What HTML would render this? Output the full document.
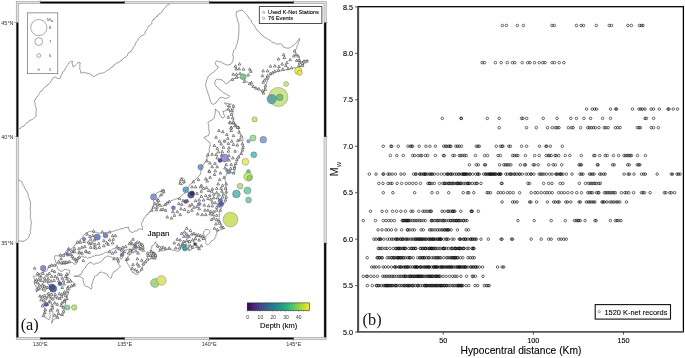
<!DOCTYPE html><html><head><meta charset="utf-8"><title>Figure</title><style>html,body{margin:0;padding:0;background:#fff;width:685px;height:358px;overflow:hidden}svg{display:block;will-change:transform}</style></head><body><svg width="685" height="358" viewBox="0 0 685 358"><g fill="none" stroke="#000" stroke-width="0.58">
<circle cx="502.4" cy="25.48" r="1.28"/>
<circle cx="506.4" cy="25.48" r="1.28"/>
<circle cx="517.3" cy="25.48" r="1.28"/>
<circle cx="523.4" cy="25.48" r="1.28"/>
<circle cx="551.9" cy="25.48" r="1.28"/>
<circle cx="554.3" cy="25.48" r="1.28"/>
<circle cx="576.4" cy="25.48" r="1.28"/>
<circle cx="581.1" cy="25.48" r="1.28"/>
<circle cx="583.5" cy="25.48" r="1.28"/>
<circle cx="596.3" cy="25.48" r="1.28"/>
<circle cx="609.2" cy="25.48" r="1.28"/>
<circle cx="611.5" cy="25.48" r="1.28"/>
<circle cx="627.9" cy="25.48" r="1.28"/>
<circle cx="631.4" cy="25.48" r="1.28"/>
<circle cx="639.5" cy="25.48" r="1.28"/>
<circle cx="641.4" cy="25.48" r="1.28"/>
<circle cx="643" cy="25.48" r="1.28"/>
<circle cx="482.1" cy="62.64" r="1.28"/>
<circle cx="484.4" cy="62.64" r="1.28"/>
<circle cx="495.4" cy="62.64" r="1.28"/>
<circle cx="501.2" cy="62.64" r="1.28"/>
<circle cx="507.3" cy="62.64" r="1.28"/>
<circle cx="512.4" cy="62.64" r="1.28"/>
<circle cx="514.8" cy="62.64" r="1.28"/>
<circle cx="522.2" cy="62.64" r="1.28"/>
<circle cx="527.6" cy="62.64" r="1.28"/>
<circle cx="530" cy="62.64" r="1.28"/>
<circle cx="534.6" cy="62.64" r="1.28"/>
<circle cx="539.3" cy="62.64" r="1.28"/>
<circle cx="542.8" cy="62.64" r="1.28"/>
<circle cx="545.1" cy="62.64" r="1.28"/>
<circle cx="552.1" cy="62.64" r="1.28"/>
<circle cx="554.5" cy="62.64" r="1.28"/>
<circle cx="559.2" cy="62.64" r="1.28"/>
<circle cx="563.8" cy="62.64" r="1.28"/>
<circle cx="586.6" cy="109.09" r="1.28"/>
<circle cx="592.3" cy="109.09" r="1.28"/>
<circle cx="594.7" cy="109.09" r="1.28"/>
<circle cx="596.6" cy="109.09" r="1.28"/>
<circle cx="610.5" cy="109.09" r="1.28"/>
<circle cx="615.8" cy="109.09" r="1.28"/>
<circle cx="616.5" cy="109.09" r="1.28"/>
<circle cx="632.5" cy="109.09" r="1.28"/>
<circle cx="639" cy="109.09" r="1.28"/>
<circle cx="640.9" cy="109.09" r="1.28"/>
<circle cx="642.6" cy="109.09" r="1.28"/>
<circle cx="645" cy="109.09" r="1.28"/>
<circle cx="651.2" cy="109.09" r="1.28"/>
<circle cx="653.6" cy="109.09" r="1.28"/>
<circle cx="659.3" cy="109.09" r="1.28"/>
<circle cx="668" cy="109.09" r="1.28"/>
<circle cx="668.9" cy="109.09" r="1.28"/>
<circle cx="673.2" cy="109.09" r="1.28"/>
<circle cx="677.5" cy="109.09" r="1.28"/>
<circle cx="442.3" cy="118.38" r="1.28"/>
<circle cx="461" cy="118.38" r="1.28"/>
<circle cx="461.4" cy="118.38" r="1.28"/>
<circle cx="487.3" cy="118.38" r="1.28"/>
<circle cx="499.2" cy="118.38" r="1.28"/>
<circle cx="521.5" cy="118.38" r="1.28"/>
<circle cx="522.9" cy="118.38" r="1.28"/>
<circle cx="526.7" cy="118.38" r="1.28"/>
<circle cx="543.2" cy="118.38" r="1.28"/>
<circle cx="557.1" cy="118.38" r="1.28"/>
<circle cx="570.8" cy="118.38" r="1.28"/>
<circle cx="576.5" cy="118.38" r="1.28"/>
<circle cx="583.9" cy="118.38" r="1.28"/>
<circle cx="590.6" cy="118.38" r="1.28"/>
<circle cx="602.6" cy="118.38" r="1.28"/>
<circle cx="610.5" cy="118.38" r="1.28"/>
<circle cx="645" cy="118.38" r="1.28"/>
<circle cx="646.4" cy="118.38" r="1.28"/>
<circle cx="653.6" cy="118.38" r="1.28"/>
<circle cx="499.2" cy="127.67" r="1.28"/>
<circle cx="526.5" cy="127.67" r="1.28"/>
<circle cx="536.3" cy="127.67" r="1.28"/>
<circle cx="547.5" cy="127.67" r="1.28"/>
<circle cx="552.3" cy="127.67" r="1.28"/>
<circle cx="555.4" cy="127.67" r="1.28"/>
<circle cx="557.1" cy="127.67" r="1.28"/>
<circle cx="559" cy="127.67" r="1.28"/>
<circle cx="568.4" cy="127.67" r="1.28"/>
<circle cx="571.5" cy="127.67" r="1.28"/>
<circle cx="573.1" cy="127.67" r="1.28"/>
<circle cx="580.6" cy="127.67" r="1.28"/>
<circle cx="587.8" cy="127.67" r="1.28"/>
<circle cx="589.4" cy="127.67" r="1.28"/>
<circle cx="591.3" cy="127.67" r="1.28"/>
<circle cx="593.5" cy="127.67" r="1.28"/>
<circle cx="595.4" cy="127.67" r="1.28"/>
<circle cx="599" cy="127.67" r="1.28"/>
<circle cx="604.3" cy="127.67" r="1.28"/>
<circle cx="605.7" cy="127.67" r="1.28"/>
<circle cx="608.1" cy="127.67" r="1.28"/>
<circle cx="615.3" cy="127.67" r="1.28"/>
<circle cx="617.7" cy="127.67" r="1.28"/>
<circle cx="620.1" cy="127.67" r="1.28"/>
<circle cx="637.3" cy="127.67" r="1.28"/>
<circle cx="639.2" cy="127.67" r="1.28"/>
<circle cx="640.4" cy="127.67" r="1.28"/>
<circle cx="651.2" cy="127.67" r="1.28"/>
<circle cx="653.6" cy="127.67" r="1.28"/>
<circle cx="658.4" cy="127.67" r="1.28"/>
<circle cx="383.3" cy="146.25" r="1.28"/>
<circle cx="390.9" cy="146.25" r="1.28"/>
<circle cx="391.8" cy="146.25" r="1.28"/>
<circle cx="398.3" cy="146.25" r="1.28"/>
<circle cx="407.9" cy="146.25" r="1.28"/>
<circle cx="410.4" cy="146.25" r="1.28"/>
<circle cx="411.6" cy="146.25" r="1.28"/>
<circle cx="412.6" cy="146.25" r="1.28"/>
<circle cx="419.2" cy="146.25" r="1.28"/>
<circle cx="425.9" cy="146.25" r="1.28"/>
<circle cx="429.9" cy="146.25" r="1.28"/>
<circle cx="435.4" cy="146.25" r="1.28"/>
<circle cx="443.7" cy="146.25" r="1.28"/>
<circle cx="445.4" cy="146.25" r="1.28"/>
<circle cx="446.7" cy="146.25" r="1.28"/>
<circle cx="448.7" cy="146.25" r="1.28"/>
<circle cx="450" cy="146.25" r="1.28"/>
<circle cx="450.8" cy="146.25" r="1.28"/>
<circle cx="455.8" cy="146.25" r="1.28"/>
<circle cx="457.5" cy="146.25" r="1.28"/>
<circle cx="459.2" cy="146.25" r="1.28"/>
<circle cx="461.5" cy="146.25" r="1.28"/>
<circle cx="476.3" cy="146.25" r="1.28"/>
<circle cx="478" cy="146.25" r="1.28"/>
<circle cx="479.3" cy="146.25" r="1.28"/>
<circle cx="496.3" cy="146.25" r="1.28"/>
<circle cx="500.4" cy="146.25" r="1.28"/>
<circle cx="502.1" cy="146.25" r="1.28"/>
<circle cx="502.9" cy="146.25" r="1.28"/>
<circle cx="508.8" cy="146.25" r="1.28"/>
<circle cx="510.4" cy="146.25" r="1.28"/>
<circle cx="521.6" cy="146.25" r="1.28"/>
<circle cx="526.6" cy="146.25" r="1.28"/>
<circle cx="539.5" cy="146.25" r="1.28"/>
<circle cx="545.9" cy="146.25" r="1.28"/>
<circle cx="546.7" cy="146.25" r="1.28"/>
<circle cx="550.4" cy="146.25" r="1.28"/>
<circle cx="562.3" cy="146.25" r="1.28"/>
<circle cx="390.4" cy="155.54" r="1.28"/>
<circle cx="396.8" cy="155.54" r="1.28"/>
<circle cx="403.3" cy="155.54" r="1.28"/>
<circle cx="412.6" cy="155.54" r="1.28"/>
<circle cx="414.6" cy="155.54" r="1.28"/>
<circle cx="417.9" cy="155.54" r="1.28"/>
<circle cx="420.4" cy="155.54" r="1.28"/>
<circle cx="421.7" cy="155.54" r="1.28"/>
<circle cx="425.4" cy="155.54" r="1.28"/>
<circle cx="427.6" cy="155.54" r="1.28"/>
<circle cx="435.4" cy="155.54" r="1.28"/>
<circle cx="443.4" cy="155.54" r="1.28"/>
<circle cx="444.2" cy="155.54" r="1.28"/>
<circle cx="452.8" cy="155.54" r="1.28"/>
<circle cx="454.5" cy="155.54" r="1.28"/>
<circle cx="459.2" cy="155.54" r="1.28"/>
<circle cx="460.8" cy="155.54" r="1.28"/>
<circle cx="462.5" cy="155.54" r="1.28"/>
<circle cx="464.5" cy="155.54" r="1.28"/>
<circle cx="466.2" cy="155.54" r="1.28"/>
<circle cx="475.5" cy="155.54" r="1.28"/>
<circle cx="484.6" cy="155.54" r="1.28"/>
<circle cx="487.6" cy="155.54" r="1.28"/>
<circle cx="498" cy="155.54" r="1.28"/>
<circle cx="500.4" cy="155.54" r="1.28"/>
<circle cx="512.6" cy="155.54" r="1.28"/>
<circle cx="514.3" cy="155.54" r="1.28"/>
<circle cx="516.3" cy="155.54" r="1.28"/>
<circle cx="517.9" cy="155.54" r="1.28"/>
<circle cx="525.4" cy="155.54" r="1.28"/>
<circle cx="534.6" cy="155.54" r="1.28"/>
<circle cx="539.2" cy="155.54" r="1.28"/>
<circle cx="546.2" cy="155.54" r="1.28"/>
<circle cx="548.4" cy="155.54" r="1.28"/>
<circle cx="549.5" cy="155.54" r="1.28"/>
<circle cx="551.2" cy="155.54" r="1.28"/>
<circle cx="555" cy="155.54" r="1.28"/>
<circle cx="556.2" cy="155.54" r="1.28"/>
<circle cx="558.7" cy="155.54" r="1.28"/>
<circle cx="565.3" cy="155.54" r="1.28"/>
<circle cx="569.8" cy="155.54" r="1.28"/>
<circle cx="581.3" cy="155.54" r="1.28"/>
<circle cx="593.7" cy="155.54" r="1.28"/>
<circle cx="594.9" cy="155.54" r="1.28"/>
<circle cx="599.7" cy="155.54" r="1.28"/>
<circle cx="605.2" cy="155.54" r="1.28"/>
<circle cx="607.2" cy="155.54" r="1.28"/>
<circle cx="613.4" cy="155.54" r="1.28"/>
<circle cx="618.6" cy="155.54" r="1.28"/>
<circle cx="624.1" cy="155.54" r="1.28"/>
<circle cx="625.7" cy="155.54" r="1.28"/>
<circle cx="627.3" cy="155.54" r="1.28"/>
<circle cx="628.8" cy="155.54" r="1.28"/>
<circle cx="630.4" cy="155.54" r="1.28"/>
<circle cx="631.5" cy="155.54" r="1.28"/>
<circle cx="637.5" cy="155.54" r="1.28"/>
<circle cx="645.4" cy="155.54" r="1.28"/>
<circle cx="469.4" cy="164.83" r="1.28"/>
<circle cx="476.3" cy="164.83" r="1.28"/>
<circle cx="478.3" cy="164.83" r="1.28"/>
<circle cx="484.6" cy="164.83" r="1.28"/>
<circle cx="485.5" cy="164.83" r="1.28"/>
<circle cx="499.6" cy="164.83" r="1.28"/>
<circle cx="503.8" cy="164.83" r="1.28"/>
<circle cx="505.4" cy="164.83" r="1.28"/>
<circle cx="507.1" cy="164.83" r="1.28"/>
<circle cx="508.8" cy="164.83" r="1.28"/>
<circle cx="510.9" cy="164.83" r="1.28"/>
<circle cx="520.4" cy="164.83" r="1.28"/>
<circle cx="524.6" cy="164.83" r="1.28"/>
<circle cx="525.4" cy="164.83" r="1.28"/>
<circle cx="533.2" cy="164.83" r="1.28"/>
<circle cx="534.6" cy="164.83" r="1.28"/>
<circle cx="538.2" cy="164.83" r="1.28"/>
<circle cx="548.7" cy="164.83" r="1.28"/>
<circle cx="553.2" cy="164.83" r="1.28"/>
<circle cx="555.4" cy="164.83" r="1.28"/>
<circle cx="561.7" cy="164.83" r="1.28"/>
<circle cx="579.1" cy="164.83" r="1.28"/>
<circle cx="580.3" cy="164.83" r="1.28"/>
<circle cx="581.5" cy="164.83" r="1.28"/>
<circle cx="597.3" cy="164.83" r="1.28"/>
<circle cx="598.1" cy="164.83" r="1.28"/>
<circle cx="612.6" cy="164.83" r="1.28"/>
<circle cx="614.2" cy="164.83" r="1.28"/>
<circle cx="627.7" cy="164.83" r="1.28"/>
<circle cx="629.3" cy="164.83" r="1.28"/>
<circle cx="637.2" cy="164.83" r="1.28"/>
<circle cx="638.8" cy="164.83" r="1.28"/>
<circle cx="639.9" cy="164.83" r="1.28"/>
<circle cx="369.3" cy="174.12" r="1.28"/>
<circle cx="376" cy="174.12" r="1.28"/>
<circle cx="383" cy="174.12" r="1.28"/>
<circle cx="383.8" cy="174.12" r="1.28"/>
<circle cx="388" cy="174.12" r="1.28"/>
<circle cx="389.6" cy="174.12" r="1.28"/>
<circle cx="392.1" cy="174.12" r="1.28"/>
<circle cx="395.4" cy="174.12" r="1.28"/>
<circle cx="459.5" cy="174.12" r="1.28"/>
<circle cx="572" cy="174.12" r="1.28"/>
<circle cx="624.1" cy="174.12" r="1.28"/>
<circle cx="628.1" cy="174.12" r="1.28"/>
<circle cx="629.6" cy="174.12" r="1.28"/>
<circle cx="634" cy="174.12" r="1.28"/>
<circle cx="641.5" cy="174.12" r="1.28"/>
<circle cx="643.8" cy="174.12" r="1.28"/>
<circle cx="645.4" cy="174.12" r="1.28"/>
<circle cx="657.2" cy="174.12" r="1.28"/>
<circle cx="671.4" cy="174.12" r="1.28"/>
<circle cx="672.5" cy="174.12" r="1.28"/>
<circle cx="677" cy="174.12" r="1.28"/>
<circle cx="678.5" cy="174.12" r="1.28"/>
<circle cx="680.1" cy="174.12" r="1.28"/>
<circle cx="580" cy="174.12" r="1.28"/>
<circle cx="581.5" cy="174.12" r="1.28"/>
<circle cx="583.1" cy="174.12" r="1.28"/>
<circle cx="589.4" cy="174.12" r="1.28"/>
<circle cx="591" cy="174.12" r="1.28"/>
<circle cx="592.6" cy="174.12" r="1.28"/>
<circle cx="594.1" cy="174.12" r="1.28"/>
<circle cx="599.7" cy="174.12" r="1.28"/>
<circle cx="601.2" cy="174.12" r="1.28"/>
<circle cx="603.6" cy="174.12" r="1.28"/>
<circle cx="605.2" cy="174.12" r="1.28"/>
<circle cx="400.95" cy="174.12" r="1.28"/>
<circle cx="404.25" cy="174.12" r="1.28"/>
<circle cx="413.57" cy="174.12" r="1.28"/>
<circle cx="415.65" cy="174.12" r="1.28"/>
<circle cx="416.11" cy="174.12" r="1.28"/>
<circle cx="419.7" cy="174.12" r="1.28"/>
<circle cx="420.11" cy="174.12" r="1.28"/>
<circle cx="421.74" cy="174.12" r="1.28"/>
<circle cx="423.54" cy="174.12" r="1.28"/>
<circle cx="424.23" cy="174.12" r="1.28"/>
<circle cx="425" cy="174.12" r="1.28"/>
<circle cx="425.66" cy="174.12" r="1.28"/>
<circle cx="427.18" cy="174.12" r="1.28"/>
<circle cx="429.25" cy="174.12" r="1.28"/>
<circle cx="430.66" cy="174.12" r="1.28"/>
<circle cx="431.53" cy="174.12" r="1.28"/>
<circle cx="432.56" cy="174.12" r="1.28"/>
<circle cx="434.4" cy="174.12" r="1.28"/>
<circle cx="437.82" cy="174.12" r="1.28"/>
<circle cx="441.41" cy="174.12" r="1.28"/>
<circle cx="444.47" cy="174.12" r="1.28"/>
<circle cx="447.08" cy="174.12" r="1.28"/>
<circle cx="447.64" cy="174.12" r="1.28"/>
<circle cx="448.53" cy="174.12" r="1.28"/>
<circle cx="450.54" cy="174.12" r="1.28"/>
<circle cx="451.18" cy="174.12" r="1.28"/>
<circle cx="452.43" cy="174.12" r="1.28"/>
<circle cx="454.74" cy="174.12" r="1.28"/>
<circle cx="456.51" cy="174.12" r="1.28"/>
<circle cx="458.45" cy="174.12" r="1.28"/>
<circle cx="461.57" cy="174.12" r="1.28"/>
<circle cx="462.89" cy="174.12" r="1.28"/>
<circle cx="463.36" cy="174.12" r="1.28"/>
<circle cx="464.31" cy="174.12" r="1.28"/>
<circle cx="464.75" cy="174.12" r="1.28"/>
<circle cx="465.93" cy="174.12" r="1.28"/>
<circle cx="466.44" cy="174.12" r="1.28"/>
<circle cx="467.65" cy="174.12" r="1.28"/>
<circle cx="469.44" cy="174.12" r="1.28"/>
<circle cx="470.09" cy="174.12" r="1.28"/>
<circle cx="472.64" cy="174.12" r="1.28"/>
<circle cx="475.62" cy="174.12" r="1.28"/>
<circle cx="477.53" cy="174.12" r="1.28"/>
<circle cx="477.9" cy="174.12" r="1.28"/>
<circle cx="479.28" cy="174.12" r="1.28"/>
<circle cx="483.56" cy="174.12" r="1.28"/>
<circle cx="485.33" cy="174.12" r="1.28"/>
<circle cx="486.12" cy="174.12" r="1.28"/>
<circle cx="487.29" cy="174.12" r="1.28"/>
<circle cx="488.74" cy="174.12" r="1.28"/>
<circle cx="489.49" cy="174.12" r="1.28"/>
<circle cx="489.97" cy="174.12" r="1.28"/>
<circle cx="490.58" cy="174.12" r="1.28"/>
<circle cx="491.52" cy="174.12" r="1.28"/>
<circle cx="492.13" cy="174.12" r="1.28"/>
<circle cx="492.97" cy="174.12" r="1.28"/>
<circle cx="493.85" cy="174.12" r="1.28"/>
<circle cx="494.68" cy="174.12" r="1.28"/>
<circle cx="495.36" cy="174.12" r="1.28"/>
<circle cx="496.24" cy="174.12" r="1.28"/>
<circle cx="498.42" cy="174.12" r="1.28"/>
<circle cx="498.87" cy="174.12" r="1.28"/>
<circle cx="499.75" cy="174.12" r="1.28"/>
<circle cx="500.61" cy="174.12" r="1.28"/>
<circle cx="500.86" cy="174.12" r="1.28"/>
<circle cx="505.79" cy="174.12" r="1.28"/>
<circle cx="507.54" cy="174.12" r="1.28"/>
<circle cx="510.05" cy="174.12" r="1.28"/>
<circle cx="510.57" cy="174.12" r="1.28"/>
<circle cx="511.84" cy="174.12" r="1.28"/>
<circle cx="514.09" cy="174.12" r="1.28"/>
<circle cx="514.94" cy="174.12" r="1.28"/>
<circle cx="516.83" cy="174.12" r="1.28"/>
<circle cx="519.21" cy="174.12" r="1.28"/>
<circle cx="519.8" cy="174.12" r="1.28"/>
<circle cx="522.26" cy="174.12" r="1.28"/>
<circle cx="526.13" cy="174.12" r="1.28"/>
<circle cx="528.49" cy="174.12" r="1.28"/>
<circle cx="530.97" cy="174.12" r="1.28"/>
<circle cx="531.34" cy="174.12" r="1.28"/>
<circle cx="533.91" cy="174.12" r="1.28"/>
<circle cx="539.12" cy="174.12" r="1.28"/>
<circle cx="540.71" cy="174.12" r="1.28"/>
<circle cx="542.06" cy="174.12" r="1.28"/>
<circle cx="543.98" cy="174.12" r="1.28"/>
<circle cx="546.3" cy="174.12" r="1.28"/>
<circle cx="549.54" cy="174.12" r="1.28"/>
<circle cx="552.14" cy="174.12" r="1.28"/>
<circle cx="555.79" cy="174.12" r="1.28"/>
<circle cx="556.75" cy="174.12" r="1.28"/>
<circle cx="557.72" cy="174.12" r="1.28"/>
<circle cx="559.94" cy="174.12" r="1.28"/>
<circle cx="560.56" cy="174.12" r="1.28"/>
<circle cx="561.13" cy="174.12" r="1.28"/>
<circle cx="563.01" cy="174.12" r="1.28"/>
<circle cx="566.37" cy="174.12" r="1.28"/>
<circle cx="378.8" cy="183.41" r="1.28"/>
<circle cx="383" cy="183.41" r="1.28"/>
<circle cx="388" cy="183.41" r="1.28"/>
<circle cx="390.4" cy="183.41" r="1.28"/>
<circle cx="392.1" cy="183.41" r="1.28"/>
<circle cx="397.1" cy="183.41" r="1.28"/>
<circle cx="401.6" cy="183.41" r="1.28"/>
<circle cx="439.5" cy="183.41" r="1.28"/>
<circle cx="472.2" cy="183.41" r="1.28"/>
<circle cx="474.7" cy="183.41" r="1.28"/>
<circle cx="476.3" cy="183.41" r="1.28"/>
<circle cx="477.2" cy="183.41" r="1.28"/>
<circle cx="481" cy="183.41" r="1.28"/>
<circle cx="501.3" cy="183.41" r="1.28"/>
<circle cx="502.1" cy="183.41" r="1.28"/>
<circle cx="527.9" cy="183.41" r="1.28"/>
<circle cx="529.6" cy="183.41" r="1.28"/>
<circle cx="543.7" cy="183.41" r="1.28"/>
<circle cx="548.7" cy="183.41" r="1.28"/>
<circle cx="552" cy="183.41" r="1.28"/>
<circle cx="560.3" cy="183.41" r="1.28"/>
<circle cx="562.8" cy="183.41" r="1.28"/>
<circle cx="579.3" cy="183.41" r="1.28"/>
<circle cx="585.5" cy="183.41" r="1.28"/>
<circle cx="588.6" cy="183.41" r="1.28"/>
<circle cx="590.2" cy="183.41" r="1.28"/>
<circle cx="591.8" cy="183.41" r="1.28"/>
<circle cx="593.4" cy="183.41" r="1.28"/>
<circle cx="594.9" cy="183.41" r="1.28"/>
<circle cx="596.5" cy="183.41" r="1.28"/>
<circle cx="598.9" cy="183.41" r="1.28"/>
<circle cx="600.4" cy="183.41" r="1.28"/>
<circle cx="406.23" cy="183.41" r="1.28"/>
<circle cx="409.45" cy="183.41" r="1.28"/>
<circle cx="412.75" cy="183.41" r="1.28"/>
<circle cx="416.17" cy="183.41" r="1.28"/>
<circle cx="420.42" cy="183.41" r="1.28"/>
<circle cx="427.91" cy="183.41" r="1.28"/>
<circle cx="429.5" cy="183.41" r="1.28"/>
<circle cx="429.92" cy="183.41" r="1.28"/>
<circle cx="431.82" cy="183.41" r="1.28"/>
<circle cx="434.26" cy="183.41" r="1.28"/>
<circle cx="442.92" cy="183.41" r="1.28"/>
<circle cx="444.28" cy="183.41" r="1.28"/>
<circle cx="444.8" cy="183.41" r="1.28"/>
<circle cx="446.17" cy="183.41" r="1.28"/>
<circle cx="448.17" cy="183.41" r="1.28"/>
<circle cx="448.76" cy="183.41" r="1.28"/>
<circle cx="449.74" cy="183.41" r="1.28"/>
<circle cx="451.39" cy="183.41" r="1.28"/>
<circle cx="452.25" cy="183.41" r="1.28"/>
<circle cx="453.33" cy="183.41" r="1.28"/>
<circle cx="454.72" cy="183.41" r="1.28"/>
<circle cx="456.55" cy="183.41" r="1.28"/>
<circle cx="457.28" cy="183.41" r="1.28"/>
<circle cx="457.92" cy="183.41" r="1.28"/>
<circle cx="458.73" cy="183.41" r="1.28"/>
<circle cx="460.02" cy="183.41" r="1.28"/>
<circle cx="460.66" cy="183.41" r="1.28"/>
<circle cx="461.6" cy="183.41" r="1.28"/>
<circle cx="463.68" cy="183.41" r="1.28"/>
<circle cx="465.36" cy="183.41" r="1.28"/>
<circle cx="467.21" cy="183.41" r="1.28"/>
<circle cx="467.97" cy="183.41" r="1.28"/>
<circle cx="468.77" cy="183.41" r="1.28"/>
<circle cx="469.62" cy="183.41" r="1.28"/>
<circle cx="383.3" cy="192.7" r="1.28"/>
<circle cx="392.9" cy="192.7" r="1.28"/>
<circle cx="414.6" cy="192.7" r="1.28"/>
<circle cx="432" cy="192.7" r="1.28"/>
<circle cx="437.5" cy="192.7" r="1.28"/>
<circle cx="448.7" cy="192.7" r="1.28"/>
<circle cx="463.2" cy="192.7" r="1.28"/>
<circle cx="467.5" cy="192.7" r="1.28"/>
<circle cx="468.8" cy="192.7" r="1.28"/>
<circle cx="473.8" cy="192.7" r="1.28"/>
<circle cx="519.6" cy="192.7" r="1.28"/>
<circle cx="576.8" cy="192.7" r="1.28"/>
<circle cx="581.5" cy="192.7" r="1.28"/>
<circle cx="587.8" cy="192.7" r="1.28"/>
<circle cx="589.4" cy="192.7" r="1.28"/>
<circle cx="591" cy="192.7" r="1.28"/>
<circle cx="592.6" cy="192.7" r="1.28"/>
<circle cx="596.5" cy="192.7" r="1.28"/>
<circle cx="598.1" cy="192.7" r="1.28"/>
<circle cx="598.9" cy="192.7" r="1.28"/>
<circle cx="604.4" cy="192.7" r="1.28"/>
<circle cx="606" cy="192.7" r="1.28"/>
<circle cx="607.5" cy="192.7" r="1.28"/>
<circle cx="609.1" cy="192.7" r="1.28"/>
<circle cx="610.7" cy="192.7" r="1.28"/>
<circle cx="612.3" cy="192.7" r="1.28"/>
<circle cx="613.9" cy="192.7" r="1.28"/>
<circle cx="615.4" cy="192.7" r="1.28"/>
<circle cx="621.4" cy="192.7" r="1.28"/>
<circle cx="624.9" cy="192.7" r="1.28"/>
<circle cx="626.5" cy="192.7" r="1.28"/>
<circle cx="628.8" cy="192.7" r="1.28"/>
<circle cx="633.6" cy="192.7" r="1.28"/>
<circle cx="641.5" cy="192.7" r="1.28"/>
<circle cx="643" cy="192.7" r="1.28"/>
<circle cx="644.6" cy="192.7" r="1.28"/>
<circle cx="650.1" cy="192.7" r="1.28"/>
<circle cx="664.3" cy="192.7" r="1.28"/>
<circle cx="665.9" cy="192.7" r="1.28"/>
<circle cx="669.8" cy="192.7" r="1.28"/>
<circle cx="671.4" cy="192.7" r="1.28"/>
<circle cx="674.6" cy="192.7" r="1.28"/>
<circle cx="487.02" cy="192.7" r="1.28"/>
<circle cx="488.57" cy="192.7" r="1.28"/>
<circle cx="490.6" cy="192.7" r="1.28"/>
<circle cx="498.14" cy="192.7" r="1.28"/>
<circle cx="500.66" cy="192.7" r="1.28"/>
<circle cx="503.49" cy="192.7" r="1.28"/>
<circle cx="507.47" cy="192.7" r="1.28"/>
<circle cx="510.12" cy="192.7" r="1.28"/>
<circle cx="513.32" cy="192.7" r="1.28"/>
<circle cx="531.18" cy="192.7" r="1.28"/>
<circle cx="535.05" cy="192.7" r="1.28"/>
<circle cx="537.64" cy="192.7" r="1.28"/>
<circle cx="541.21" cy="192.7" r="1.28"/>
<circle cx="544.58" cy="192.7" r="1.28"/>
<circle cx="547.06" cy="192.7" r="1.28"/>
<circle cx="549.51" cy="192.7" r="1.28"/>
<circle cx="552.26" cy="192.7" r="1.28"/>
<circle cx="558.64" cy="192.7" r="1.28"/>
<circle cx="561.5" cy="192.7" r="1.28"/>
<circle cx="564.36" cy="192.7" r="1.28"/>
<circle cx="567.85" cy="192.7" r="1.28"/>
<circle cx="571.88" cy="192.7" r="1.28"/>
<circle cx="502.1" cy="201.99" r="1.28"/>
<circle cx="512.6" cy="201.99" r="1.28"/>
<circle cx="514.6" cy="201.99" r="1.28"/>
<circle cx="517.1" cy="201.99" r="1.28"/>
<circle cx="529.6" cy="201.99" r="1.28"/>
<circle cx="530.9" cy="201.99" r="1.28"/>
<circle cx="536.6" cy="201.99" r="1.28"/>
<circle cx="547.5" cy="201.99" r="1.28"/>
<circle cx="553.7" cy="201.99" r="1.28"/>
<circle cx="555.4" cy="201.99" r="1.28"/>
<circle cx="557.9" cy="201.99" r="1.28"/>
<circle cx="559.2" cy="201.99" r="1.28"/>
<circle cx="565.8" cy="201.99" r="1.28"/>
<circle cx="567.5" cy="201.99" r="1.28"/>
<circle cx="570.8" cy="201.99" r="1.28"/>
<circle cx="579.1" cy="201.99" r="1.28"/>
<circle cx="580.3" cy="201.99" r="1.28"/>
<circle cx="586.3" cy="201.99" r="1.28"/>
<circle cx="588.3" cy="201.99" r="1.28"/>
<circle cx="589.9" cy="201.99" r="1.28"/>
<circle cx="591.8" cy="201.99" r="1.28"/>
<circle cx="593.4" cy="201.99" r="1.28"/>
<circle cx="594.9" cy="201.99" r="1.28"/>
<circle cx="602" cy="201.99" r="1.28"/>
<circle cx="603.1" cy="201.99" r="1.28"/>
<circle cx="604.4" cy="201.99" r="1.28"/>
<circle cx="606.8" cy="201.99" r="1.28"/>
<circle cx="609.9" cy="201.99" r="1.28"/>
<circle cx="612" cy="201.99" r="1.28"/>
<circle cx="613.9" cy="201.99" r="1.28"/>
<circle cx="616.2" cy="201.99" r="1.28"/>
<circle cx="617.8" cy="201.99" r="1.28"/>
<circle cx="619.8" cy="201.99" r="1.28"/>
<circle cx="626.5" cy="201.99" r="1.28"/>
<circle cx="370.5" cy="211.28" r="1.28"/>
<circle cx="382.1" cy="211.28" r="1.28"/>
<circle cx="386.6" cy="211.28" r="1.28"/>
<circle cx="392.6" cy="211.28" r="1.28"/>
<circle cx="396.6" cy="211.28" r="1.28"/>
<circle cx="400.9" cy="211.28" r="1.28"/>
<circle cx="405.4" cy="211.28" r="1.28"/>
<circle cx="410.9" cy="211.28" r="1.28"/>
<circle cx="412.9" cy="211.28" r="1.28"/>
<circle cx="418.7" cy="211.28" r="1.28"/>
<circle cx="442" cy="211.28" r="1.28"/>
<circle cx="444.5" cy="211.28" r="1.28"/>
<circle cx="460.8" cy="211.28" r="1.28"/>
<circle cx="471.1" cy="211.28" r="1.28"/>
<circle cx="471.7" cy="211.28" r="1.28"/>
<circle cx="472.2" cy="211.28" r="1.28"/>
<circle cx="478.3" cy="211.28" r="1.28"/>
<circle cx="422.9" cy="211.28" r="1.28"/>
<circle cx="424.7" cy="211.28" r="1.28"/>
<circle cx="426.97" cy="211.28" r="1.28"/>
<circle cx="429.13" cy="211.28" r="1.28"/>
<circle cx="430.71" cy="211.28" r="1.28"/>
<circle cx="431.28" cy="211.28" r="1.28"/>
<circle cx="447.83" cy="211.28" r="1.28"/>
<circle cx="448.34" cy="211.28" r="1.28"/>
<circle cx="450.45" cy="211.28" r="1.28"/>
<circle cx="452.15" cy="211.28" r="1.28"/>
<circle cx="452.85" cy="211.28" r="1.28"/>
<circle cx="453.96" cy="211.28" r="1.28"/>
<circle cx="454.86" cy="211.28" r="1.28"/>
<circle cx="363.3" cy="220.57" r="1.28"/>
<circle cx="375.5" cy="220.57" r="1.28"/>
<circle cx="383.3" cy="220.57" r="1.28"/>
<circle cx="386" cy="220.57" r="1.28"/>
<circle cx="388.8" cy="220.57" r="1.28"/>
<circle cx="391.3" cy="220.57" r="1.28"/>
<circle cx="394.3" cy="220.57" r="1.28"/>
<circle cx="517.9" cy="220.57" r="1.28"/>
<circle cx="534.2" cy="220.57" r="1.28"/>
<circle cx="551.2" cy="220.57" r="1.28"/>
<circle cx="565.3" cy="220.57" r="1.28"/>
<circle cx="574.5" cy="220.57" r="1.28"/>
<circle cx="576.2" cy="220.57" r="1.28"/>
<circle cx="577.8" cy="220.57" r="1.28"/>
<circle cx="580.3" cy="220.57" r="1.28"/>
<circle cx="578.8" cy="220.57" r="1.28"/>
<circle cx="585.1" cy="220.57" r="1.28"/>
<circle cx="594.9" cy="220.57" r="1.28"/>
<circle cx="596.2" cy="220.57" r="1.28"/>
<circle cx="610.4" cy="220.57" r="1.28"/>
<circle cx="615.4" cy="220.57" r="1.28"/>
<circle cx="617" cy="220.57" r="1.28"/>
<circle cx="618.6" cy="220.57" r="1.28"/>
<circle cx="621" cy="220.57" r="1.28"/>
<circle cx="402.11" cy="220.57" r="1.28"/>
<circle cx="402.98" cy="220.57" r="1.28"/>
<circle cx="403.78" cy="220.57" r="1.28"/>
<circle cx="404.41" cy="220.57" r="1.28"/>
<circle cx="405.69" cy="220.57" r="1.28"/>
<circle cx="406.34" cy="220.57" r="1.28"/>
<circle cx="407.06" cy="220.57" r="1.28"/>
<circle cx="407.73" cy="220.57" r="1.28"/>
<circle cx="408.46" cy="220.57" r="1.28"/>
<circle cx="409.12" cy="220.57" r="1.28"/>
<circle cx="410.58" cy="220.57" r="1.28"/>
<circle cx="412.67" cy="220.57" r="1.28"/>
<circle cx="414.34" cy="220.57" r="1.28"/>
<circle cx="416.04" cy="220.57" r="1.28"/>
<circle cx="417.55" cy="220.57" r="1.28"/>
<circle cx="419.53" cy="220.57" r="1.28"/>
<circle cx="421.03" cy="220.57" r="1.28"/>
<circle cx="423.3" cy="220.57" r="1.28"/>
<circle cx="425.3" cy="220.57" r="1.28"/>
<circle cx="431.12" cy="220.57" r="1.28"/>
<circle cx="431.67" cy="220.57" r="1.28"/>
<circle cx="432.85" cy="220.57" r="1.28"/>
<circle cx="434.95" cy="220.57" r="1.28"/>
<circle cx="436.96" cy="220.57" r="1.28"/>
<circle cx="437.76" cy="220.57" r="1.28"/>
<circle cx="439.07" cy="220.57" r="1.28"/>
<circle cx="440.98" cy="220.57" r="1.28"/>
<circle cx="442.65" cy="220.57" r="1.28"/>
<circle cx="443.54" cy="220.57" r="1.28"/>
<circle cx="444.47" cy="220.57" r="1.28"/>
<circle cx="446.25" cy="220.57" r="1.28"/>
<circle cx="448.42" cy="220.57" r="1.28"/>
<circle cx="450.23" cy="220.57" r="1.28"/>
<circle cx="450.88" cy="220.57" r="1.28"/>
<circle cx="452.41" cy="220.57" r="1.28"/>
<circle cx="453.79" cy="220.57" r="1.28"/>
<circle cx="454.65" cy="220.57" r="1.28"/>
<circle cx="456.03" cy="220.57" r="1.28"/>
<circle cx="456.64" cy="220.57" r="1.28"/>
<circle cx="457.83" cy="220.57" r="1.28"/>
<circle cx="458.68" cy="220.57" r="1.28"/>
<circle cx="459.6" cy="220.57" r="1.28"/>
<circle cx="460.9" cy="220.57" r="1.28"/>
<circle cx="463.21" cy="220.57" r="1.28"/>
<circle cx="463.73" cy="220.57" r="1.28"/>
<circle cx="465.43" cy="220.57" r="1.28"/>
<circle cx="467.09" cy="220.57" r="1.28"/>
<circle cx="395.9" cy="229.86" r="1.28"/>
<circle cx="401.6" cy="229.86" r="1.28"/>
<circle cx="451.2" cy="229.86" r="1.28"/>
<circle cx="457.5" cy="229.86" r="1.28"/>
<circle cx="466.2" cy="229.86" r="1.28"/>
<circle cx="468.5" cy="229.86" r="1.28"/>
<circle cx="378.1" cy="229.86" r="1.28"/>
<circle cx="382.04" cy="229.86" r="1.28"/>
<circle cx="385.97" cy="229.86" r="1.28"/>
<circle cx="388.54" cy="229.86" r="1.28"/>
<circle cx="391.48" cy="229.86" r="1.28"/>
<circle cx="407.2" cy="229.86" r="1.28"/>
<circle cx="407.88" cy="229.86" r="1.28"/>
<circle cx="409.67" cy="229.86" r="1.28"/>
<circle cx="412.45" cy="229.86" r="1.28"/>
<circle cx="414.46" cy="229.86" r="1.28"/>
<circle cx="421.16" cy="229.86" r="1.28"/>
<circle cx="423.31" cy="229.86" r="1.28"/>
<circle cx="429.44" cy="229.86" r="1.28"/>
<circle cx="431.09" cy="229.86" r="1.28"/>
<circle cx="432.74" cy="229.86" r="1.28"/>
<circle cx="435.1" cy="229.86" r="1.28"/>
<circle cx="437.41" cy="229.86" r="1.28"/>
<circle cx="439.23" cy="229.86" r="1.28"/>
<circle cx="441.28" cy="229.86" r="1.28"/>
<circle cx="442.77" cy="229.86" r="1.28"/>
<circle cx="444.45" cy="229.86" r="1.28"/>
<circle cx="445.01" cy="229.86" r="1.28"/>
<circle cx="446.71" cy="229.86" r="1.28"/>
<circle cx="447.29" cy="229.86" r="1.28"/>
<circle cx="448.29" cy="229.86" r="1.28"/>
<circle cx="448.76" cy="229.86" r="1.28"/>
<circle cx="383.8" cy="239.15" r="1.28"/>
<circle cx="481" cy="239.15" r="1.28"/>
<circle cx="488.3" cy="239.15" r="1.28"/>
<circle cx="501" cy="239.15" r="1.28"/>
<circle cx="502.1" cy="239.15" r="1.28"/>
<circle cx="511.6" cy="239.15" r="1.28"/>
<circle cx="512.6" cy="239.15" r="1.28"/>
<circle cx="531.2" cy="239.15" r="1.28"/>
<circle cx="541.2" cy="239.15" r="1.28"/>
<circle cx="548.7" cy="239.15" r="1.28"/>
<circle cx="551.2" cy="239.15" r="1.28"/>
<circle cx="558.7" cy="239.15" r="1.28"/>
<circle cx="561.2" cy="239.15" r="1.28"/>
<circle cx="563.7" cy="239.15" r="1.28"/>
<circle cx="566.2" cy="239.15" r="1.28"/>
<circle cx="373.91" cy="239.15" r="1.28"/>
<circle cx="376.01" cy="239.15" r="1.28"/>
<circle cx="378.68" cy="239.15" r="1.28"/>
<circle cx="379.19" cy="239.15" r="1.28"/>
<circle cx="380.34" cy="239.15" r="1.28"/>
<circle cx="380.9" cy="239.15" r="1.28"/>
<circle cx="387.32" cy="239.15" r="1.28"/>
<circle cx="389.62" cy="239.15" r="1.28"/>
<circle cx="391.74" cy="239.15" r="1.28"/>
<circle cx="393.23" cy="239.15" r="1.28"/>
<circle cx="395.54" cy="239.15" r="1.28"/>
<circle cx="396.41" cy="239.15" r="1.28"/>
<circle cx="397.02" cy="239.15" r="1.28"/>
<circle cx="398.08" cy="239.15" r="1.28"/>
<circle cx="400.17" cy="239.15" r="1.28"/>
<circle cx="400.47" cy="239.15" r="1.28"/>
<circle cx="402.03" cy="239.15" r="1.28"/>
<circle cx="402.6" cy="239.15" r="1.28"/>
<circle cx="403.15" cy="239.15" r="1.28"/>
<circle cx="405.23" cy="239.15" r="1.28"/>
<circle cx="406.49" cy="239.15" r="1.28"/>
<circle cx="407.27" cy="239.15" r="1.28"/>
<circle cx="408.56" cy="239.15" r="1.28"/>
<circle cx="410.68" cy="239.15" r="1.28"/>
<circle cx="412.06" cy="239.15" r="1.28"/>
<circle cx="413.79" cy="239.15" r="1.28"/>
<circle cx="415.08" cy="239.15" r="1.28"/>
<circle cx="415.91" cy="239.15" r="1.28"/>
<circle cx="416.91" cy="239.15" r="1.28"/>
<circle cx="417.69" cy="239.15" r="1.28"/>
<circle cx="418.74" cy="239.15" r="1.28"/>
<circle cx="419.47" cy="239.15" r="1.28"/>
<circle cx="420" cy="239.15" r="1.28"/>
<circle cx="420.94" cy="239.15" r="1.28"/>
<circle cx="421.97" cy="239.15" r="1.28"/>
<circle cx="422.38" cy="239.15" r="1.28"/>
<circle cx="423.47" cy="239.15" r="1.28"/>
<circle cx="424.72" cy="239.15" r="1.28"/>
<circle cx="425.6" cy="239.15" r="1.28"/>
<circle cx="426.41" cy="239.15" r="1.28"/>
<circle cx="428.42" cy="239.15" r="1.28"/>
<circle cx="429.07" cy="239.15" r="1.28"/>
<circle cx="430.17" cy="239.15" r="1.28"/>
<circle cx="430.91" cy="239.15" r="1.28"/>
<circle cx="431.99" cy="239.15" r="1.28"/>
<circle cx="432.87" cy="239.15" r="1.28"/>
<circle cx="433.61" cy="239.15" r="1.28"/>
<circle cx="434.03" cy="239.15" r="1.28"/>
<circle cx="435.34" cy="239.15" r="1.28"/>
<circle cx="436.99" cy="239.15" r="1.28"/>
<circle cx="437.69" cy="239.15" r="1.28"/>
<circle cx="439.03" cy="239.15" r="1.28"/>
<circle cx="439.49" cy="239.15" r="1.28"/>
<circle cx="440.48" cy="239.15" r="1.28"/>
<circle cx="440.77" cy="239.15" r="1.28"/>
<circle cx="441.07" cy="239.15" r="1.28"/>
<circle cx="443.65" cy="239.15" r="1.28"/>
<circle cx="446.06" cy="239.15" r="1.28"/>
<circle cx="446.98" cy="239.15" r="1.28"/>
<circle cx="448.32" cy="239.15" r="1.28"/>
<circle cx="451.86" cy="239.15" r="1.28"/>
<circle cx="454.05" cy="239.15" r="1.28"/>
<circle cx="459.24" cy="239.15" r="1.28"/>
<circle cx="459.98" cy="239.15" r="1.28"/>
<circle cx="460.86" cy="239.15" r="1.28"/>
<circle cx="463.31" cy="239.15" r="1.28"/>
<circle cx="463.97" cy="239.15" r="1.28"/>
<circle cx="465.43" cy="239.15" r="1.28"/>
<circle cx="465.88" cy="239.15" r="1.28"/>
<circle cx="467.66" cy="239.15" r="1.28"/>
<circle cx="470.29" cy="239.15" r="1.28"/>
<circle cx="470.63" cy="239.15" r="1.28"/>
<circle cx="472" cy="239.15" r="1.28"/>
<circle cx="472.65" cy="239.15" r="1.28"/>
<circle cx="474.32" cy="239.15" r="1.28"/>
<circle cx="475.25" cy="239.15" r="1.28"/>
<circle cx="476.52" cy="239.15" r="1.28"/>
<circle cx="468.8" cy="248.44" r="1.28"/>
<circle cx="473.8" cy="248.44" r="1.28"/>
<circle cx="378.33" cy="248.44" r="1.28"/>
<circle cx="379.18" cy="248.44" r="1.28"/>
<circle cx="380.96" cy="248.44" r="1.28"/>
<circle cx="382.46" cy="248.44" r="1.28"/>
<circle cx="385.23" cy="248.44" r="1.28"/>
<circle cx="386.93" cy="248.44" r="1.28"/>
<circle cx="389.9" cy="248.44" r="1.28"/>
<circle cx="393.14" cy="248.44" r="1.28"/>
<circle cx="395.65" cy="248.44" r="1.28"/>
<circle cx="396.28" cy="248.44" r="1.28"/>
<circle cx="397.48" cy="248.44" r="1.28"/>
<circle cx="398.38" cy="248.44" r="1.28"/>
<circle cx="398.95" cy="248.44" r="1.28"/>
<circle cx="399.76" cy="248.44" r="1.28"/>
<circle cx="400.77" cy="248.44" r="1.28"/>
<circle cx="402.62" cy="248.44" r="1.28"/>
<circle cx="403.14" cy="248.44" r="1.28"/>
<circle cx="404.44" cy="248.44" r="1.28"/>
<circle cx="404.89" cy="248.44" r="1.28"/>
<circle cx="405.74" cy="248.44" r="1.28"/>
<circle cx="408.86" cy="248.44" r="1.28"/>
<circle cx="411.09" cy="248.44" r="1.28"/>
<circle cx="411.76" cy="248.44" r="1.28"/>
<circle cx="413.16" cy="248.44" r="1.28"/>
<circle cx="413.72" cy="248.44" r="1.28"/>
<circle cx="415.25" cy="248.44" r="1.28"/>
<circle cx="415.82" cy="248.44" r="1.28"/>
<circle cx="420.2" cy="248.44" r="1.28"/>
<circle cx="421" cy="248.44" r="1.28"/>
<circle cx="422.6" cy="248.44" r="1.28"/>
<circle cx="423.09" cy="248.44" r="1.28"/>
<circle cx="424.97" cy="248.44" r="1.28"/>
<circle cx="425.34" cy="248.44" r="1.28"/>
<circle cx="425.89" cy="248.44" r="1.28"/>
<circle cx="427.48" cy="248.44" r="1.28"/>
<circle cx="429.15" cy="248.44" r="1.28"/>
<circle cx="429.57" cy="248.44" r="1.28"/>
<circle cx="431.07" cy="248.44" r="1.28"/>
<circle cx="431.64" cy="248.44" r="1.28"/>
<circle cx="430.92" cy="248.44" r="1.28"/>
<circle cx="432.65" cy="248.44" r="1.28"/>
<circle cx="433.44" cy="248.44" r="1.28"/>
<circle cx="434.9" cy="248.44" r="1.28"/>
<circle cx="435.56" cy="248.44" r="1.28"/>
<circle cx="437.18" cy="248.44" r="1.28"/>
<circle cx="439.16" cy="248.44" r="1.28"/>
<circle cx="440.62" cy="248.44" r="1.28"/>
<circle cx="442.93" cy="248.44" r="1.28"/>
<circle cx="443.37" cy="248.44" r="1.28"/>
<circle cx="443.87" cy="248.44" r="1.28"/>
<circle cx="444.45" cy="248.44" r="1.28"/>
<circle cx="446.4" cy="248.44" r="1.28"/>
<circle cx="448.39" cy="248.44" r="1.28"/>
<circle cx="450.97" cy="248.44" r="1.28"/>
<circle cx="451.77" cy="248.44" r="1.28"/>
<circle cx="452.66" cy="248.44" r="1.28"/>
<circle cx="454.93" cy="248.44" r="1.28"/>
<circle cx="455.09" cy="248.44" r="1.28"/>
<circle cx="455.51" cy="248.44" r="1.28"/>
<circle cx="456.86" cy="248.44" r="1.28"/>
<circle cx="458.21" cy="248.44" r="1.28"/>
<circle cx="458.82" cy="248.44" r="1.28"/>
<circle cx="459.5" cy="248.44" r="1.28"/>
<circle cx="460.43" cy="248.44" r="1.28"/>
<circle cx="460.93" cy="248.44" r="1.28"/>
<circle cx="462.9" cy="248.44" r="1.28"/>
<circle cx="463.86" cy="248.44" r="1.28"/>
<circle cx="463.99" cy="248.44" r="1.28"/>
<circle cx="467.25" cy="248.44" r="1.28"/>
<circle cx="472.1" cy="248.44" r="1.28"/>
<circle cx="472.79" cy="248.44" r="1.28"/>
<circle cx="473.79" cy="248.44" r="1.28"/>
<circle cx="367.2" cy="257.73" r="1.28"/>
<circle cx="377.1" cy="257.73" r="1.28"/>
<circle cx="377.8" cy="257.73" r="1.28"/>
<circle cx="379.28" cy="257.73" r="1.28"/>
<circle cx="379.84" cy="257.73" r="1.28"/>
<circle cx="381.76" cy="257.73" r="1.28"/>
<circle cx="382.32" cy="257.73" r="1.28"/>
<circle cx="387.16" cy="257.73" r="1.28"/>
<circle cx="389.05" cy="257.73" r="1.28"/>
<circle cx="391.19" cy="257.73" r="1.28"/>
<circle cx="391.68" cy="257.73" r="1.28"/>
<circle cx="393.32" cy="257.73" r="1.28"/>
<circle cx="394.05" cy="257.73" r="1.28"/>
<circle cx="394.93" cy="257.73" r="1.28"/>
<circle cx="396.9" cy="257.73" r="1.28"/>
<circle cx="397.55" cy="257.73" r="1.28"/>
<circle cx="398.17" cy="257.73" r="1.28"/>
<circle cx="398.72" cy="257.73" r="1.28"/>
<circle cx="399.92" cy="257.73" r="1.28"/>
<circle cx="400.63" cy="257.73" r="1.28"/>
<circle cx="401.33" cy="257.73" r="1.28"/>
<circle cx="402.81" cy="257.73" r="1.28"/>
<circle cx="403.54" cy="257.73" r="1.28"/>
<circle cx="405.19" cy="257.73" r="1.28"/>
<circle cx="407.45" cy="257.73" r="1.28"/>
<circle cx="408.96" cy="257.73" r="1.28"/>
<circle cx="409.69" cy="257.73" r="1.28"/>
<circle cx="410.72" cy="257.73" r="1.28"/>
<circle cx="413.27" cy="257.73" r="1.28"/>
<circle cx="417.7" cy="257.73" r="1.28"/>
<circle cx="419.77" cy="257.73" r="1.28"/>
<circle cx="420.33" cy="257.73" r="1.28"/>
<circle cx="422.11" cy="257.73" r="1.28"/>
<circle cx="422.85" cy="257.73" r="1.28"/>
<circle cx="423.98" cy="257.73" r="1.28"/>
<circle cx="424.59" cy="257.73" r="1.28"/>
<circle cx="426.7" cy="257.73" r="1.28"/>
<circle cx="428.5" cy="257.73" r="1.28"/>
<circle cx="429.08" cy="257.73" r="1.28"/>
<circle cx="431.76" cy="257.73" r="1.28"/>
<circle cx="433.55" cy="257.73" r="1.28"/>
<circle cx="435.04" cy="257.73" r="1.28"/>
<circle cx="436.57" cy="257.73" r="1.28"/>
<circle cx="437.38" cy="257.73" r="1.28"/>
<circle cx="438.18" cy="257.73" r="1.28"/>
<circle cx="439.76" cy="257.73" r="1.28"/>
<circle cx="440.8" cy="257.73" r="1.28"/>
<circle cx="443.76" cy="257.73" r="1.28"/>
<circle cx="446.5" cy="257.73" r="1.28"/>
<circle cx="447.79" cy="257.73" r="1.28"/>
<circle cx="449.53" cy="257.73" r="1.28"/>
<circle cx="450.83" cy="257.73" r="1.28"/>
<circle cx="452.06" cy="257.73" r="1.28"/>
<circle cx="452.66" cy="257.73" r="1.28"/>
<circle cx="453.69" cy="257.73" r="1.28"/>
<circle cx="454.47" cy="257.73" r="1.28"/>
<circle cx="455.26" cy="257.73" r="1.28"/>
<circle cx="455.69" cy="257.73" r="1.28"/>
<circle cx="457.17" cy="257.73" r="1.28"/>
<circle cx="457.7" cy="257.73" r="1.28"/>
<circle cx="460.41" cy="257.73" r="1.28"/>
<circle cx="462.83" cy="257.73" r="1.28"/>
<circle cx="468.02" cy="257.73" r="1.28"/>
<circle cx="470.23" cy="257.73" r="1.28"/>
<circle cx="472.5" cy="257.73" r="1.28"/>
<circle cx="474.23" cy="257.73" r="1.28"/>
<circle cx="479.3" cy="267.02" r="1.28"/>
<circle cx="482.6" cy="267.02" r="1.28"/>
<circle cx="497.6" cy="267.02" r="1.28"/>
<circle cx="502.1" cy="267.02" r="1.28"/>
<circle cx="503.8" cy="267.02" r="1.28"/>
<circle cx="371.77" cy="267.02" r="1.28"/>
<circle cx="374.01" cy="267.02" r="1.28"/>
<circle cx="376.17" cy="267.02" r="1.28"/>
<circle cx="379.04" cy="267.02" r="1.28"/>
<circle cx="383.14" cy="267.02" r="1.28"/>
<circle cx="385.46" cy="267.02" r="1.28"/>
<circle cx="388.2" cy="267.02" r="1.28"/>
<circle cx="391.39" cy="267.02" r="1.28"/>
<circle cx="394.52" cy="267.02" r="1.28"/>
<circle cx="395.12" cy="267.02" r="1.28"/>
<circle cx="396.19" cy="267.02" r="1.28"/>
<circle cx="398.64" cy="267.02" r="1.28"/>
<circle cx="399.82" cy="267.02" r="1.28"/>
<circle cx="400.59" cy="267.02" r="1.28"/>
<circle cx="401.43" cy="267.02" r="1.28"/>
<circle cx="403.47" cy="267.02" r="1.28"/>
<circle cx="404.77" cy="267.02" r="1.28"/>
<circle cx="405.61" cy="267.02" r="1.28"/>
<circle cx="406.95" cy="267.02" r="1.28"/>
<circle cx="407.72" cy="267.02" r="1.28"/>
<circle cx="408.34" cy="267.02" r="1.28"/>
<circle cx="410.26" cy="267.02" r="1.28"/>
<circle cx="412.26" cy="267.02" r="1.28"/>
<circle cx="414.21" cy="267.02" r="1.28"/>
<circle cx="414.87" cy="267.02" r="1.28"/>
<circle cx="415.79" cy="267.02" r="1.28"/>
<circle cx="416.55" cy="267.02" r="1.28"/>
<circle cx="417.31" cy="267.02" r="1.28"/>
<circle cx="417.6" cy="267.02" r="1.28"/>
<circle cx="420.13" cy="267.02" r="1.28"/>
<circle cx="420.47" cy="267.02" r="1.28"/>
<circle cx="421.17" cy="267.02" r="1.28"/>
<circle cx="423.15" cy="267.02" r="1.28"/>
<circle cx="424.45" cy="267.02" r="1.28"/>
<circle cx="425.23" cy="267.02" r="1.28"/>
<circle cx="426.48" cy="267.02" r="1.28"/>
<circle cx="427.19" cy="267.02" r="1.28"/>
<circle cx="428.5" cy="267.02" r="1.28"/>
<circle cx="428.87" cy="267.02" r="1.28"/>
<circle cx="429.6" cy="267.02" r="1.28"/>
<circle cx="431.71" cy="267.02" r="1.28"/>
<circle cx="433.39" cy="267.02" r="1.28"/>
<circle cx="433.9" cy="267.02" r="1.28"/>
<circle cx="434.91" cy="267.02" r="1.28"/>
<circle cx="435.61" cy="267.02" r="1.28"/>
<circle cx="436.22" cy="267.02" r="1.28"/>
<circle cx="437.05" cy="267.02" r="1.28"/>
<circle cx="437.82" cy="267.02" r="1.28"/>
<circle cx="439.66" cy="267.02" r="1.28"/>
<circle cx="440.83" cy="267.02" r="1.28"/>
<circle cx="441.65" cy="267.02" r="1.28"/>
<circle cx="442.48" cy="267.02" r="1.28"/>
<circle cx="442.92" cy="267.02" r="1.28"/>
<circle cx="444.26" cy="267.02" r="1.28"/>
<circle cx="445.65" cy="267.02" r="1.28"/>
<circle cx="446.58" cy="267.02" r="1.28"/>
<circle cx="447.72" cy="267.02" r="1.28"/>
<circle cx="448.51" cy="267.02" r="1.28"/>
<circle cx="449.69" cy="267.02" r="1.28"/>
<circle cx="450.36" cy="267.02" r="1.28"/>
<circle cx="451.66" cy="267.02" r="1.28"/>
<circle cx="451.91" cy="267.02" r="1.28"/>
<circle cx="453.56" cy="267.02" r="1.28"/>
<circle cx="455.11" cy="267.02" r="1.28"/>
<circle cx="456.97" cy="267.02" r="1.28"/>
<circle cx="457.53" cy="267.02" r="1.28"/>
<circle cx="458.65" cy="267.02" r="1.28"/>
<circle cx="459.37" cy="267.02" r="1.28"/>
<circle cx="459.74" cy="267.02" r="1.28"/>
<circle cx="460.68" cy="267.02" r="1.28"/>
<circle cx="461.47" cy="267.02" r="1.28"/>
<circle cx="462.96" cy="267.02" r="1.28"/>
<circle cx="463.75" cy="267.02" r="1.28"/>
<circle cx="464.9" cy="267.02" r="1.28"/>
<circle cx="465.42" cy="267.02" r="1.28"/>
<circle cx="465.9" cy="267.02" r="1.28"/>
<circle cx="468.04" cy="267.02" r="1.28"/>
<circle cx="470.54" cy="267.02" r="1.28"/>
<circle cx="471.15" cy="267.02" r="1.28"/>
<circle cx="472.92" cy="267.02" r="1.28"/>
<circle cx="473.55" cy="267.02" r="1.28"/>
<circle cx="475.41" cy="267.02" r="1.28"/>
<circle cx="475.78" cy="267.02" r="1.28"/>
<circle cx="477.1" cy="267.02" r="1.28"/>
<circle cx="363.3" cy="276.31" r="1.28"/>
<circle cx="366.6" cy="276.31" r="1.28"/>
<circle cx="460.9" cy="276.31" r="1.28"/>
<circle cx="466.6" cy="276.31" r="1.28"/>
<circle cx="472.3" cy="276.31" r="1.28"/>
<circle cx="473.3" cy="276.31" r="1.28"/>
<circle cx="475.5" cy="276.31" r="1.28"/>
<circle cx="483" cy="276.31" r="1.28"/>
<circle cx="367.35" cy="276.31" r="1.28"/>
<circle cx="370.82" cy="276.31" r="1.28"/>
<circle cx="373.96" cy="276.31" r="1.28"/>
<circle cx="377.53" cy="276.31" r="1.28"/>
<circle cx="382.71" cy="276.31" r="1.28"/>
<circle cx="384.42" cy="276.31" r="1.28"/>
<circle cx="386.11" cy="276.31" r="1.28"/>
<circle cx="388.1" cy="276.31" r="1.28"/>
<circle cx="389.64" cy="276.31" r="1.28"/>
<circle cx="391.43" cy="276.31" r="1.28"/>
<circle cx="393" cy="276.31" r="1.28"/>
<circle cx="394.51" cy="276.31" r="1.28"/>
<circle cx="396.66" cy="276.31" r="1.28"/>
<circle cx="398.6" cy="276.31" r="1.28"/>
<circle cx="400.13" cy="276.31" r="1.28"/>
<circle cx="401.52" cy="276.31" r="1.28"/>
<circle cx="403.43" cy="276.31" r="1.28"/>
<circle cx="404.01" cy="276.31" r="1.28"/>
<circle cx="405.07" cy="276.31" r="1.28"/>
<circle cx="405.78" cy="276.31" r="1.28"/>
<circle cx="406.97" cy="276.31" r="1.28"/>
<circle cx="408.93" cy="276.31" r="1.28"/>
<circle cx="409.85" cy="276.31" r="1.28"/>
<circle cx="410.29" cy="276.31" r="1.28"/>
<circle cx="411.07" cy="276.31" r="1.28"/>
<circle cx="412.31" cy="276.31" r="1.28"/>
<circle cx="412.99" cy="276.31" r="1.28"/>
<circle cx="414.09" cy="276.31" r="1.28"/>
<circle cx="414.74" cy="276.31" r="1.28"/>
<circle cx="415.97" cy="276.31" r="1.28"/>
<circle cx="416.84" cy="276.31" r="1.28"/>
<circle cx="417.47" cy="276.31" r="1.28"/>
<circle cx="418.19" cy="276.31" r="1.28"/>
<circle cx="418.93" cy="276.31" r="1.28"/>
<circle cx="419.22" cy="276.31" r="1.28"/>
<circle cx="420.26" cy="276.31" r="1.28"/>
<circle cx="420.9" cy="276.31" r="1.28"/>
<circle cx="421.96" cy="276.31" r="1.28"/>
<circle cx="422.44" cy="276.31" r="1.28"/>
<circle cx="423.44" cy="276.31" r="1.28"/>
<circle cx="424.98" cy="276.31" r="1.28"/>
<circle cx="426.57" cy="276.31" r="1.28"/>
<circle cx="427.45" cy="276.31" r="1.28"/>
<circle cx="428.63" cy="276.31" r="1.28"/>
<circle cx="429.27" cy="276.31" r="1.28"/>
<circle cx="430.19" cy="276.31" r="1.28"/>
<circle cx="430.77" cy="276.31" r="1.28"/>
<circle cx="432.08" cy="276.31" r="1.28"/>
<circle cx="432.53" cy="276.31" r="1.28"/>
<circle cx="433.59" cy="276.31" r="1.28"/>
<circle cx="435.37" cy="276.31" r="1.28"/>
<circle cx="435.85" cy="276.31" r="1.28"/>
<circle cx="436.73" cy="276.31" r="1.28"/>
<circle cx="437.15" cy="276.31" r="1.28"/>
<circle cx="438.54" cy="276.31" r="1.28"/>
<circle cx="439.16" cy="276.31" r="1.28"/>
<circle cx="440.25" cy="276.31" r="1.28"/>
<circle cx="443.06" cy="276.31" r="1.28"/>
<circle cx="446.16" cy="276.31" r="1.28"/>
<circle cx="449.63" cy="276.31" r="1.28"/>
<circle cx="452.75" cy="276.31" r="1.28"/>
<circle cx="454.94" cy="276.31" r="1.28"/>
<circle cx="457.09" cy="276.31" r="1.28"/>
<circle cx="367.4" cy="285.6" r="1.28"/>
<circle cx="372.3" cy="285.6" r="1.28"/>
<circle cx="475" cy="285.6" r="1.28"/>
<circle cx="477.7" cy="285.6" r="1.28"/>
<circle cx="484.3" cy="285.6" r="1.28"/>
<circle cx="486.3" cy="285.6" r="1.28"/>
<circle cx="488" cy="285.6" r="1.28"/>
<circle cx="489.3" cy="285.6" r="1.28"/>
<circle cx="376.38" cy="285.6" r="1.28"/>
<circle cx="376.78" cy="285.6" r="1.28"/>
<circle cx="378.39" cy="285.6" r="1.28"/>
<circle cx="379.15" cy="285.6" r="1.28"/>
<circle cx="381.28" cy="285.6" r="1.28"/>
<circle cx="383.28" cy="285.6" r="1.28"/>
<circle cx="384.69" cy="285.6" r="1.28"/>
<circle cx="385.4" cy="285.6" r="1.28"/>
<circle cx="386.38" cy="285.6" r="1.28"/>
<circle cx="386.8" cy="285.6" r="1.28"/>
<circle cx="387.62" cy="285.6" r="1.28"/>
<circle cx="388.16" cy="285.6" r="1.28"/>
<circle cx="389.28" cy="285.6" r="1.28"/>
<circle cx="390.03" cy="285.6" r="1.28"/>
<circle cx="391.21" cy="285.6" r="1.28"/>
<circle cx="391.92" cy="285.6" r="1.28"/>
<circle cx="392.77" cy="285.6" r="1.28"/>
<circle cx="394.67" cy="285.6" r="1.28"/>
<circle cx="395.58" cy="285.6" r="1.28"/>
<circle cx="396.08" cy="285.6" r="1.28"/>
<circle cx="397.38" cy="285.6" r="1.28"/>
<circle cx="399.32" cy="285.6" r="1.28"/>
<circle cx="401.06" cy="285.6" r="1.28"/>
<circle cx="402.43" cy="285.6" r="1.28"/>
<circle cx="404.03" cy="285.6" r="1.28"/>
<circle cx="404.56" cy="285.6" r="1.28"/>
<circle cx="405.58" cy="285.6" r="1.28"/>
<circle cx="407.08" cy="285.6" r="1.28"/>
<circle cx="407.91" cy="285.6" r="1.28"/>
<circle cx="408.71" cy="285.6" r="1.28"/>
<circle cx="409.27" cy="285.6" r="1.28"/>
<circle cx="410.11" cy="285.6" r="1.28"/>
<circle cx="412" cy="285.6" r="1.28"/>
<circle cx="412.47" cy="285.6" r="1.28"/>
<circle cx="413.46" cy="285.6" r="1.28"/>
<circle cx="415.2" cy="285.6" r="1.28"/>
<circle cx="417.34" cy="285.6" r="1.28"/>
<circle cx="417.88" cy="285.6" r="1.28"/>
<circle cx="418.52" cy="285.6" r="1.28"/>
<circle cx="420.43" cy="285.6" r="1.28"/>
<circle cx="422.42" cy="285.6" r="1.28"/>
<circle cx="424.23" cy="285.6" r="1.28"/>
<circle cx="424.91" cy="285.6" r="1.28"/>
<circle cx="425.67" cy="285.6" r="1.28"/>
<circle cx="426.4" cy="285.6" r="1.28"/>
<circle cx="426.89" cy="285.6" r="1.28"/>
<circle cx="427.77" cy="285.6" r="1.28"/>
<circle cx="429.04" cy="285.6" r="1.28"/>
<circle cx="429.81" cy="285.6" r="1.28"/>
<circle cx="430.92" cy="285.6" r="1.28"/>
<circle cx="431.45" cy="285.6" r="1.28"/>
<circle cx="432.47" cy="285.6" r="1.28"/>
<circle cx="433.24" cy="285.6" r="1.28"/>
<circle cx="434.41" cy="285.6" r="1.28"/>
<circle cx="434.97" cy="285.6" r="1.28"/>
<circle cx="436.02" cy="285.6" r="1.28"/>
<circle cx="436.78" cy="285.6" r="1.28"/>
<circle cx="437.41" cy="285.6" r="1.28"/>
<circle cx="438.26" cy="285.6" r="1.28"/>
<circle cx="439.73" cy="285.6" r="1.28"/>
<circle cx="440.2" cy="285.6" r="1.28"/>
<circle cx="441" cy="285.6" r="1.28"/>
<circle cx="441.43" cy="285.6" r="1.28"/>
<circle cx="442.1" cy="285.6" r="1.28"/>
<circle cx="443.76" cy="285.6" r="1.28"/>
<circle cx="444.46" cy="285.6" r="1.28"/>
<circle cx="444.86" cy="285.6" r="1.28"/>
<circle cx="446.55" cy="285.6" r="1.28"/>
<circle cx="446.9" cy="285.6" r="1.28"/>
<circle cx="448.44" cy="285.6" r="1.28"/>
<circle cx="450.12" cy="285.6" r="1.28"/>
<circle cx="452.08" cy="285.6" r="1.28"/>
<circle cx="453.71" cy="285.6" r="1.28"/>
<circle cx="454.72" cy="285.6" r="1.28"/>
<circle cx="456.67" cy="285.6" r="1.28"/>
<circle cx="457.56" cy="285.6" r="1.28"/>
<circle cx="458.32" cy="285.6" r="1.28"/>
<circle cx="458.64" cy="285.6" r="1.28"/>
<circle cx="459.8" cy="285.6" r="1.28"/>
<circle cx="460.52" cy="285.6" r="1.28"/>
<circle cx="461.27" cy="285.6" r="1.28"/>
<circle cx="461.9" cy="285.6" r="1.28"/>
<circle cx="462.98" cy="285.6" r="1.28"/>
<circle cx="466.24" cy="285.6" r="1.28"/>
<circle cx="468.86" cy="285.6" r="1.28"/>
</g>
<rect x="358.0" y="6.7" width="325.4" height="325" fill="none" stroke="#000" stroke-width="1.3"/>
<line x1="358.3" y1="6.7" x2="358.3" y2="332.5" stroke="#505050" stroke-width="1.7"/>
<line x1="357.1" y1="331.7" x2="683.4" y2="331.7" stroke="#585858" stroke-width="1.6"/>
<g stroke="#333" stroke-width="0.8">
<line x1="355" y1="332.05" x2="358.0" y2="332.05"/>
<line x1="355" y1="285.6" x2="358.0" y2="285.6"/>
<line x1="355" y1="239.15" x2="358.0" y2="239.15"/>
<line x1="355" y1="192.7" x2="358.0" y2="192.7"/>
<line x1="355" y1="146.25" x2="358.0" y2="146.25"/>
<line x1="355" y1="99.8" x2="358.0" y2="99.8"/>
<line x1="355" y1="53.35" x2="358.0" y2="53.35"/>
<line x1="355" y1="6.9" x2="358.0" y2="6.9"/>
<line x1="443.2" y1="331.7" x2="443.2" y2="334.7"/>
<line x1="533.35" y1="331.7" x2="533.35" y2="334.7"/>
<line x1="623.5" y1="331.7" x2="623.5" y2="334.7"/>
</g>
<g font-family="Liberation Sans" font-size="7.2" fill="#000" stroke="#000" stroke-width="0.12" text-anchor="end">
<text x="353" y="334.65">5.0</text>
<text x="353" y="288.2">5.5</text>
<text x="353" y="241.75">6.0</text>
<text x="353" y="195.3">6.5</text>
<text x="353" y="148.85">7.0</text>
<text x="353" y="102.4">7.5</text>
<text x="353" y="55.95">8.0</text>
<text x="353" y="9.5">8.5</text>
</g>
<g font-family="Liberation Sans" font-size="7.2" fill="#000" stroke="#000" stroke-width="0.12" text-anchor="middle">
<text x="443.2" y="342.9">50</text>
<text x="533.35" y="342.9">100</text>
<text x="623.5" y="342.9">150</text>
</g>
<text x="460.6" y="354.3" font-family="Liberation Sans" font-size="10.25" fill="#000" stroke="#000" stroke-width="0.1">Hypocentral distance (Km)</text>
<text transform="translate(338.4,176.2) rotate(-90)" font-family="Liberation Sans" font-size="10.6" fill="#111">M<tspan font-size="7" dy="2.5" dx="0.3">w</tspan></text>
<text x="362.6" y="324.5" font-family="Liberation Serif" font-size="16.3" fill="#111">(b)</text>
<rect x="595.2" y="304.6" width="75.3" height="14.5" fill="#fff" stroke="#111" stroke-width="1.1"/>
<circle cx="599.3" cy="311.6" r="1.1" fill="none" stroke="#333" stroke-width="0.5"/>
<text x="604.5" y="314.9" font-family="Liberation Sans" font-size="7.4" fill="#000" stroke="#000" stroke-width="0.1">1520 K-net records</text>
<defs><clipPath id="mc"><rect x="18.4" y="3.6" width="305.6" height="333.8"/></clipPath></defs>
<rect x="16.2" y="1.6" width="310" height="337.9" fill="#e2e2e2"/>
<rect x="18.4" y="3.6" width="305.6" height="333.8" fill="#fff"/>
<g clip-path="url(#mc)">
<g fill="#fff" stroke="#262626" stroke-width="0.45" stroke-linejoin="round">
<path fill="none" d="M169.4 3.4 L168.84 4.51 L167.45 4.77 L166.68 5.65 L166.23 6.87 L165.2 7.5 L164.49 8.35 L163.81 9.22 L162.93 9.92 L162.1 10.67 L161.97 12 L161.31 12.89 L160.2 13.4 L159.13 13.79 L158.57 14.82 L157.5 15.22 L157.18 16.55 L156 16.8 L155.39 17.66 L154.49 18.29 L154.25 19.45 L152.98 19.77 L152.7 20.9 L151.7 21.72 L151.89 23.26 L151.27 24.32 L150.2 25.1 L149.33 25.94 L148.19 26.5 L147.7 27.7 L147.16 28.79 L146.66 29.92 L145.82 30.82 L145.1 31.8 L145.2 33.25 L144.3 34.4 L143.3 35.21 L142.06 35.53 L140.9 36 L140.07 36.84 L139.44 37.87 L138.4 38.5 L138.03 39.7 L137.42 40.76 L136.56 41.67 L135.9 42.7 L135.54 43.94 L135.24 45.2 L134.2 46.1 L133.33 47.04 L133.08 48.27 L132.6 49.4 L131.65 50.16 L131.18 51.37 L130.1 52 L128.88 52.41 L128.4 53.6 L127.46 54.22 L127.49 55.55 L126.67 56.26 L125.9 57 L124.81 57.53 L123.88 58.26 L122.79 58.78 L122.19 59.95 L121.2 60.6 L120.13 60.87 L119.35 61.59 L118.69 62.51 L117.65 62.82 L116.59 63.12 L115.74 63.73 L115.07 64.62 L114.2 65.2 L113.3 65.79 L112.83 66.94 L111.85 67.44 L110.62 67.63 L110.04 68.63 L109.37 69.51 L108.3 69.9 L107.39 70.46 L106.42 70.92 L105.57 71.54 L104.8 72.3 L103.66 72.73 L102.47 72.97 L101.27 73.19 L100.1 73.5 L98.99 73.62 L98.09 74.28 L97.14 74.81 L96.1 75.11 L95.29 75.98 L94.29 76.37 L93.1 76.3 L92.03 75.27 L90.7 74.6 L89.78 73.57 L88.4 73.5 L87.22 73.15 L86 73 L84.82 72.76 L83.7 72.3 L82.39 73 L80.9 73 L80.55 71.95 L80.7 70.73 L80.13 69.76 L79.5 68.8 L79.68 67.63 L80.17 66.49 L79.63 65.23 L80.08 64.08 L80.2 62.9 L79 62.4 L77.8 62.9 L76.97 63.61 L76.3 64.47 L75.5 65.2 L74.45 66.26 L73.1 66.9 L72.78 65.95 L72.83 64.85 L72 64.1 L72.06 62.67 L73.1 61.7 L72 61.19 L70.8 61.3 L69.73 62 L68.88 62.89 L68.4 64.1 L67.6 64.83 L66.97 65.66 L66.66 66.71 L66.1 67.6 L65.44 68.44 L64.97 69.4 L64.7 70.5 L63.7 71.1 L62.78 71.75 L62.49 72.81 L62.25 73.91 L61.4 74.6 L61 75.8 L60.62 77.01 L60.2 78.2 L59.08 78.56 L57.9 78.6 L56.61 77.94 L55.5 77 L54.34 77.31 L53.2 77.7 L52.48 78.79 L52 80 L51.21 80.72 L50.63 81.63 L50.29 82.74 L49.42 83.4 L48.5 84 L47.99 85.05 L46.9 85.54 L46.2 86.4 L45.2 86.82 L44.53 87.56 L43.81 88.27 L43.08 88.95 L42.6 89.9 L41.92 90.97 L40.58 91.38 L39.84 92.39 L39.1 93.4 L38.91 94.53 L38.39 95.44 L37.82 96.32 L36.8 96.9 L35.97 97.62 L35.83 98.81 L35.35 99.77 L34.4 100.4 L34.39 101.59 L34.82 102.73 L35.25 103.87 L34.9 105.1 L35.72 106.16 L35.81 107.51 L36.3 108.7 L36.58 109.76 L36.37 110.77 L35.81 111.76 L36 112.8 L36.06 113.84 L35.8 114.85 L36.21 115.92 L35.6 116.9 L34.69 117.63 L33.69 118.21 L32.84 119.05 L31.91 119.74 L30.7 120 L29.54 120.36 L28.93 121.39 L28.25 122.35 L27.09 122.71 L26.07 123.23 L25.4 124.2 L24.87 125.24 L24.03 125.87 L23.11 126.37 L21.9 126.49 L21.2 127.3 L20.49 128.3 L19.2 128.52 L18.4 129.4"/>
<path fill="none" d="M18.4 178.7 L18.85 179.85 L19.63 180.68 L21.06 180.92 L21.82 181.78 L22.3 182.9 L22.44 183.95 L22.97 184.8 L23.48 185.67 L24.24 186.42 L24.42 187.45 L24.86 188.35 L25.4 189.2 L25.87 190.2 L26.78 190.95 L27.08 192.05 L27.65 192.99 L28.1 194 L28.15 195.07 L28.15 196.16 L28.47 197.16 L29.12 198.08 L29.49 199.07 L29.7 200.1 L30.06 201.07 L30.43 202.04 L30.57 203.04 L30.27 204.1 L30.55 205.08 L30.5 206.1 L30.57 207.12 L30.01 208.11 L30.32 209.14 L30.24 210.15 L30.51 211.18 L30.68 212.2 L30.32 213.2 L30.1 214.2 L30.6 215.15 L30.38 216.2 L30.03 217.27 L30.5 218.22 L31.13 219.16 L30.57 220.26 L31.1 221.2 L31.7 222.2 L31.26 223.16 L31.17 224.17 L30.85 225.14 L31.1 226.2 L30.74 227.19 L30.61 228.2 L30.95 229.26 L30.22 230.22 L30.14 231.24 L30.5 232.3 L30.47 233.41 L29.56 234.22 L29.25 235.23 L29.1 236.3 L28.47 237.32 L27.74 238.28 L27.1 239.3 L26.11 239.97 L24.86 240.28 L24.1 241.3 L23.07 241.3 L22.03 240.97 L21 241.3 L19.65 240.94 L18.4 240.3"/>
<path d="M242.3 10.2 L243.8 11.7 L244.91 12.52 L245.71 13.66 L246.7 14.6 L247.51 15.64 L248.08 16.85 L248.79 17.96 L249.6 19 L250.64 19.9 L251.42 20.98 L251.63 22.45 L252.6 23.4 L253.73 24.73 L254.71 26.15 L255.5 27.7 L256.09 29.05 L257.32 29.88 L257.99 31.17 L259.1 32.1 L260.04 33.01 L260.87 34.03 L262.07 34.68 L262.8 35.8 L263.84 36.62 L264.84 37.5 L266.09 37.99 L267.2 38.7 L268.56 39.67 L270.1 40.3 L271.36 41.55 L272.8 42.6 L274.31 42.74 L275.53 43.73 L277 44 L278.4 44.07 L279.8 43.84 L281.2 44 L282.43 44.93 L282.84 46.52 L284 47.5 L285.4 47.71 L286.77 48.14 L288.2 48.2 L289.7 47.77 L291.01 46.95 L292.3 46.1 L293.68 45.43 L294.58 44.17 L295.8 43.3 L296.92 42.28 L297.63 40.94 L298.6 39.8 L299.7 38.4 L299.16 39.75 L299.3 41.2 L298.33 42.46 L298.19 44.14 L297.2 45.4 L297.01 46.89 L296.48 48.27 L295.8 49.6 L295.09 50.86 L295.1 52.3 L296.19 53.67 L297.2 55.1 L298.17 56.56 L299.3 57.9 L300 60 L300.7 62.1 L302.8 61.4 L304.9 60.7 L307 60 L308.4 60.7 L307.1 61.88 L305.6 62.8 L304.2 63.7 L302.8 64.6 L301.45 65.53 L300 66.3 L298.29 67.11 L296.5 67.7 L295.1 67.73 L293.7 67.83 L292.3 68 L290.8 68.3 L289.51 69.07 L288.2 69.8 L286.74 69.69 L285.35 69.99 L284 70.5 L282.54 70.35 L281.18 70.83 L279.8 71.2 L278.44 71.7 L276.95 71.38 L275.6 71.9 L273.88 72.37 L272.5 73.5 L271.25 74.1 L270.4 75.2 L269.75 76.33 L269.05 77.44 L268.81 78.79 L267.76 79.72 L267.4 81 L266.87 82.2 L266.61 83.51 L266.3 84.8 L265.5 85.9 L264.89 87.48 L264.45 89.09 L264.5 90.8 L263.5 92.8 L262 92.06 L261.05 90.61 L259.6 89.8 L258.1 89.1 L256.62 88.46 L255.2 87.7 L253.85 87.21 L252.71 86.37 L251.6 85.5 L250.28 84.23 L248.7 83.3 L247.94 82.12 L246.51 81.62 L245.8 80.4 L244.41 79.23 L242.9 78.2 L240.98 78.21 L239.2 77.5 L237.37 77.68 L235.6 78.2 L234.19 78.73 L232.7 79 L231.44 79.44 L230.5 80.4 L229.13 81.23 L228.3 82.6 L226.2 84.1 L225.1 83 L224 81.9 L222.79 80.48 L221.1 79.7 L219.22 79.5 L217.4 79 L215.3 80.4 L215.23 81.94 L214.5 83.3 L215.18 84.79 L216 86.2 L217.23 86.9 L218.1 87.96 L218.9 89.1 L220.39 90.14 L221.8 91.3 L223.2 92.47 L224.7 93.5 L226.28 94.01 L227.6 95 L228.9 95.39 L229.8 96.4 L228.3 97.9 L226.78 97.96 L225.4 98.6 L223.54 97.99 L221.8 97.1 L219.6 97.9 L218.2 100 L216.8 101.28 L216 103 L214.73 103.43 L213.8 104.4 L211.6 103.7 L210.81 102.29 L210.2 100.8 L209.77 98.96 L209.4 97.1 L208.71 95.29 L208 93.5 L207.61 92 L207.07 90.54 L206.5 89.1 L206.21 87.66 L205.93 86.21 L205.5 84.8 L206.18 83.41 L206.17 81.87 L206.5 80.4 L206.95 79.18 L207.66 78.07 L208 76.8 L208.95 75.55 L210.2 74.6 L211.3 73.51 L212.84 72.96 L213.8 71.7 L215.01 70.75 L216.22 69.8 L217.4 68.8 L218.2 66.6 L216.89 66.23 L216 65.2 L215.58 63.77 L215.3 62.3 L216.7 60.8 L218.48 61.46 L220.3 62 L221.69 62.22 L222.73 63.22 L224 63.7 L225.76 64.55 L227.6 65.2 L228.96 64.46 L230.5 64.4 L231.68 63.01 L232.7 61.5 L233.02 59.69 L233.4 57.9 L233.19 56.42 L232.7 55 L232.88 53.44 L233.46 51.97 L233.6 50.4 L234.83 49.43 L235.8 48.2 L235.9 46.62 L236.4 45.16 L237.2 43.8 L237.59 42.37 L237.7 40.9 L238.32 39.49 L238 37.92 L238.42 36.47 L238.7 35 L238.87 33.56 L238.76 32.09 L238.89 30.64 L239.1 29.2 L238.85 27.76 L238.8 26.31 L238.88 24.84 L238.7 23.4 L238.05 21.98 L237.61 20.5 L237.2 19 L237.08 17.49 L236.16 16.15 L236.2 14.6 L236.41 13.16 L236.5 11.7 L238.7 10.9 L240.9 10.5Z"/>
<path d="M224.58 102.76 L226.17 103.19 L227.79 103.44 L229.03 103.67 L230.2 104.16 L231.53 104.04 L232.56 105.06 L233.87 105.01 L233.24 106.22 L233.19 107.55 L233.51 108.95 L232.86 110.16 L232.77 111.5 L232.93 112.85 L232.96 114.19 L232.05 115.49 L232.52 116.86 L232.31 118.23 L233.77 119.11 L233.19 120.59 L233.85 121.71 L234.47 122.84 L234.94 124.01 L235.06 125.29 L235.63 126.39 L236.59 127.2 L237.11 128.34 L237.88 129.3 L238.77 130.15 L239.73 131.05 L239.62 132.5 L239.95 133.72 L240.53 134.81 L241.47 135.72 L242.15 136.76 L242.79 138 L242.92 139.27 L242.85 140.56 L241.96 141.9 L242.81 143.13 L242.66 144.42 L243.55 145.42 L244.18 146.61 L243.24 147.49 L243.37 148.88 L242.61 149.85 L242.22 150.99 L241.65 152.05 L241.53 153.38 L240.41 154.17 L239.56 155.11 L239.71 156.59 L238.77 157.48 L238.51 158.71 L237.74 159.69 L237.09 160.72 L237.17 162.2 L236.21 163.31 L235.41 164.48 L235.15 165.84 L234.89 167.2 L234.78 168.48 L234.33 169.75 L235.1 171.09 L234.54 172.35 L234.55 173.64 L233.22 173.24 L232.06 172.46 L230.57 172.46 L229.48 171.5 L228.08 171.73 L226.95 172.57 L226.83 174.17 L226.19 175.57 L225.25 176.85 L224.97 178.12 L224.89 179.38 L225.59 180.58 L225.7 181.83 L225.98 183.06 L225.76 184.32 L226.15 185.51 L225.86 186.76 L226.51 187.93 L226.7 189.13 L226.42 190.39 L226.89 191.57 L226.61 192.82 L226.24 194 L225.84 195.17 L225.7 196.39 L225.86 197.65 L225.82 198.88 L225.53 200.07 L225.25 201.27 L225.11 202.63 L223.74 203.24 L223.48 204.53 L222.85 205.59 L222.44 206.79 L221.37 207.58 L221.02 208.85 L220.46 210.06 L220.28 211.39 L219.32 212.47 L219.34 213.86 L219.13 215.11 L219.65 216.36 L219.31 217.61 L218.85 218.87 L219.34 220.12 L219.95 221.43 L220.5 222.77 L221.71 223.79 L221.88 225.32 L222.56 226.34 L223.27 227.36 L223.9 228.43 L222.77 229.05 L221.58 229.55 L220.31 229.88 L219.15 230.45 L217.99 231.02 L216.8 231.53 L216.99 232.89 L216.45 234.12 L215.62 235.31 L215.96 236.69 L214.97 237.79 L214.24 239.15 L213.21 240.21 L211.74 240.81 L210.83 241.6 L210.35 242.85 L209.43 243.63 L208.54 244.44 L207.34 244.92 L206.37 243.93 L205.48 242.87 L206.14 241.66 L205.6 240.4 L205.64 239.16 L205.68 237.92 L205.82 236.69 L206.67 235.66 L207.46 234.59 L208.57 233.77 L209.57 232.87 L210.05 231.53 L209.38 230.35 L208.35 229.46 L206.92 229.55 L205.48 229.46 L204.59 230.76 L203.58 231.99 L203.29 233.6 L204.08 234.86 L204.38 236.26 L204.47 237.72 L203.51 238.77 L202.78 239.99 L201.99 238.74 L200.99 237.68 L199.9 236.69 L198.5 236.59 L197.09 236.3 L195.68 236.69 L195.03 238.25 L194.33 239.78 L193.96 241.15 L193.77 242.52 L194.33 243.89 L193.89 245.2 L192.91 246.3 L192.56 247.64 L192.3 249.02 L190.74 249.68 L189.76 251.06 L188.44 249.79 L188.07 247.99 L188.7 246.76 L188.65 245.46 L189.01 244.2 L188.58 242.87 L188.92 240.81 L187.47 240.67 L186.46 241.88 L185.05 241.85 L183.85 242.45 L183.35 243.84 L182.07 244.64 L180.91 245.54 L180.47 246.97 L180.37 248.45 L179.74 249.75 L179.12 251.06 L177.67 251.3 L176.35 250.91 L175 250.64 L173.71 250.04 L172.38 250.37 L171.25 249.14 L169.96 249.12 L168.64 249.43 L167.44 249.7 L166.17 249.61 L164.97 249.9 L163.81 250.33 L162.62 250.68 L161.36 250.63 L160.19 251.06 L158.5 251.47 L159.55 250.83 L160.37 249.85 L161.45 249.25 L162.64 248.81 L163.57 247.99 L162.52 247.18 L161.14 246.92 L160.19 245.94 L158.84 246.87 L157.65 247.99 L157.75 246.64 L157.41 245.41 L156.82 244.25 L155.81 243.21 L155.96 241.84 L154.97 242.93 L154.2 244.24 L153.17 245.3 L151.74 245.94 L151.82 247.27 L151.37 248.51 L150.8 249.73 L150.9 251.06 L152.1 251.81 L153.54 252.05 L154.6 253.11 L155.96 253.51 L156.24 254.74 L156.52 255.96 L156.81 257.18 L155.54 257.86 L154.13 258.06 L152.81 258.59 L151.32 258.55 L150.05 259.22 L149.01 260 L147.97 260.79 L146.9 261.53 L145.82 262.27 L145.17 263.29 L144.28 264.17 L143.58 265.16 L142.82 266.12 L142.45 267.34 L141.99 268.73 L140.99 269.9 L140.75 271.38 L139.28 272.14 L138.18 273.26 L137.54 274.81 L136.35 273.97 L134.71 274.07 L133.79 272.62 L132.3 272.39 L132.23 271.04 L130.86 270.17 L130.95 268.75 L130.04 267.77 L129.29 266.68 L128.96 265.31 L128.09 264.3 L127.24 263.28 L126.81 261.75 L126.52 260.21 L126.73 258.61 L127.44 257.19 L128.39 255.98 L129.77 255.14 L130.64 254.01 L131.35 252.8 L131.11 251.18 L131.97 250.04 L130.6 249.54 L129.23 249.09 L127.74 249.43 L126.12 250.1 L124.36 250.04 L123.21 249.45 L121.97 249.08 L121.04 247.98 L119.63 247.99 L118.21 247.76 L117.01 248.98 L115.63 248.96 L114.16 248.4 L112.87 249.02 L111.76 249.71 L110.74 250.53 L109.48 251.02 L108.65 252.08 L107.16 252.12 L105.7 252.23 L104.42 253.1 L103.3 253.71 L102.23 254.43 L100.8 254.11 L99.86 255.25 L98.5 255.14 L97.22 255.32 L95.88 255.23 L94.73 256.03 L93.44 256.16 L92.21 256.46 L91.2 257.35 L90.02 257.77 L88.66 257.67 L87.52 258.2 L86.48 257.38 L85.35 256.82 L83.79 257.51 L82.95 256.09 L81.6 256.16 L80.62 257.17 L79.79 258.32 L78.78 259.3 L77.72 260.23 L76.96 261.55 L76.53 263.02 L75.69 264.3 L74.26 264.18 L73.32 262.87 L71.98 262.54 L70.62 262.27 L69.39 262.55 L68.17 262.83 L66.88 262.93 L66.01 264.26 L64.7 264.3 L63.01 263.91 L61.33 264.3 L60.13 263.66 L58.75 263.97 L57.54 263.47 L56.25 263.28 L55.41 261.25 L55.15 259.99 L54.63 258.77 L54.7 257.45 L54.56 256.16 L55.88 255.42 L57.5 255.99 L58.79 255.14 L60.03 254.67 L61.34 255.1 L62.6 254.92 L63.86 254.74 L65.29 254.37 L66.24 253.38 L67.02 252.15 L68.12 251.35 L68.97 250.22 L70.06 249.4 L71.46 249.02 L72.27 247.84 L73.8 247.34 L73.99 245.57 L75.35 244.92 L75.97 243.76 L77.25 243.27 L77.91 242.16 L78.66 241.13 L80.2 240.9 L80.33 239.24 L81.6 238.75 L82.46 237.63 L83.05 236.34 L83.73 235.1 L84.65 234.01 L85.92 232.96 L87.52 232.56 L88.8 231.7 L90.3 231.49 L91.75 231.12 L93.35 231.92 L95.12 232.15 L96.61 232.32 L98.04 232.89 L99.5 233.22 L101.04 232.98 L102.27 232.46 L103.62 233.17 L104.85 232.69 L106.1 232.37 L107.38 232.35 L108.69 232.67 L109.9 231.94 L111.18 231.94 L112.25 231.12 L113.75 231.76 L114.67 230.44 L115.88 230.07 L117.29 230.43 L118.36 229.6 L119.63 229.46 L120.73 228.81 L122.06 228.8 L123.33 228.66 L124.3 227.63 L125.55 227.39 L127.05 227.67 L128.42 226.97 L128.73 228.53 L129.2 230.05 L129.77 231.53 L131.45 232.08 L133.15 232.56 L133.99 231.43 L135.21 230.96 L136.63 230.89 L137.77 230.28 L138.55 229.04 L139.91 228.84 L141.31 229.31 L142.78 229.46 L142.52 228.22 L142.4 226.95 L141.95 225.75 L141.5 224.55 L141.6 223.24 L142.08 221.86 L143.37 220.88 L143.17 219.17 L144.14 218.03 L145.3 217.4 L145.85 216.2 L146.29 214.9 L147.79 214.57 L147.93 213 L149.5 212.73 L149.91 211.4 L151.27 210.94 L151.74 209.67 L152.5 208.51 L152.6 207.09 L153.4 205.95 L154.31 204.85 L154.27 203.37 L153.71 202.16 L153.59 200.89 L153.52 199.61 L153.98 198.26 L153.43 197.05 L154.04 195.8 L154.88 194.74 L156.07 193.96 L156.81 192.82 L158.12 192.38 L159.31 191.67 L160.64 191.29 L161.88 190.7 L162.93 189.65 L164.41 189.64 L164.57 191.38 L163.57 192.82 L162.91 194.28 L161.84 195.31 L160.17 195.76 L159.35 197.05 L158.14 198.41 L157.99 200.21 L158.5 201.6 L158.24 203.02 L158.16 204.42 L159.69 204.62 L160.68 205.76 L161.88 206.53 L162.98 205.98 L163.94 205.25 L165.12 204.82 L165.86 203.77 L166.5 202.58 L167.8 202.32 L169.05 201.66 L170.4 201.22 L171.65 200.56 L173.03 200.21 L174.14 199.15 L175.73 199.26 L176.98 198.56 L178.4 198.25 L179.62 197.47 L180.54 196.54 L181.33 195.46 L182.49 194.84 L183.44 193.95 L184.7 193.45 L185.36 192.26 L185.75 190.9 L186.37 189.69 L187.54 188.8 L187.85 187.4 L188.92 186.45 L189.39 185.09 L190.25 184.04 L191.65 183.41 L192.59 182.42 L193.15 181.13 L194.36 180.55 L195.14 179.48 L196.15 178.68 L197.21 177.93 L197.92 176.79 L198.95 176 L199.9 175.14 L200.44 173.87 L200.63 172.53 L200.88 171.2 L201.2 169.88 L201.36 168.53 L201.6 167.2 L202.07 165.86 L202.92 164.77 L204.07 163.87 L204.56 162.54 L205.76 161.68 L206.16 160.29 L206.45 159.06 L207.22 158.01 L207.03 156.6 L207.67 155.5 L208.73 154.55 L208.4 153.09 L209.2 152.05 L209.47 150.76 L208.88 149.38 L209.69 148.14 L209.62 146.81 L210.28 145.55 L210.31 144.24 L210.05 142.89 L209.13 141.69 L207.67 141.14 L206.66 140.05 L205.97 138.96 L204.67 138.42 L204.13 137.19 L205.53 136.67 L206.9 136.04 L208.35 135.66 L208.91 133.99 L209.54 132.36 L209.05 131.14 L208.76 129.89 L208.91 128.56 L208.85 127.27 L208.53 126.03 L208.77 124.69 L208.02 123.52 L208.02 122.41 L209.13 121.8 L209.96 120.72 L211.35 120.56 L212.23 119.56 L213.43 119.08 L214.48 117.78 L214.14 115.95 L215.11 114.63 L215.06 113.23 L215.32 111.84 L215.68 110.44 L215.11 109.04 L216.15 109.9 L217.32 110.61 L218.08 111.82 L219.34 112.4 L219.53 113.65 L219.9 114.83 L220.62 115.85 L221.77 116.67 L221.88 117.97 L223.38 117.95 L224.41 116.86 L224.48 115.31 L223.49 114.09 L223.33 112.62 L222.72 111.28 L224.04 111.21 L225.26 110.85 L226.36 110.19 L227.28 109.03 L228.64 109.04 L229.56 110.59 L229.48 112.4 L230.2 111.18 L231.13 110.13 L232.01 109.04 L230.88 108.56 L230.15 107.45 L229.15 106.76 L227.89 106.46 L226.95 105.68 L226.34 104.56 L225.08 103.97Z"/>
<path d="M74 276.42 L75.17 276.03 L76.39 275.82 L77.69 275.91 L78.72 275.04 L79.92 274.75 L81.1 274.41 L81.87 272.94 L82.45 271.38 L82.81 270.16 L83.81 269.37 L84.61 268.43 L85.45 267.53 L85.83 266.32 L86.52 265.06 L87.7 264.36 L88.55 263.28 L90.13 263.03 L90.9 261.86 L92.01 263.25 L93.44 264.3 L95.63 263.89 L96.65 262.85 L98.34 263.34 L99.35 262.27 L100.89 262.04 L101.89 260.84 L102.87 260.05 L103.68 259.11 L104.12 257.82 L105.26 257.18 L106.79 256.12 L108.65 256.16 L110.04 256.87 L111.69 257.05 L112.87 258.2 L114.25 257.93 L115.6 258.1 L116.97 257.94 L118.28 258.61 L117.98 260.24 L117.6 261.86 L118.38 263.04 L118.68 264.5 L119.74 265.52 L120.47 266.73 L119.4 267.41 L118.54 268.35 L117.45 269.01 L116.65 270 L115.82 270.98 L114.3 271.12 L113.71 272.39 L112.6 273.34 L112.2 274.63 L111.77 275.91 L111.62 277.32 L110.84 278.44 L109.66 277.65 L108.76 276.59 L107.63 275.77 L107.29 274.19 L106.11 273.4 L104.91 273.32 L103.81 272.59 L102.54 272.93 L101.47 272.05 L100.2 272.39 L98.8 272.91 L98.27 274.58 L96.98 275.24 L95.63 275.82 L94.59 276.71 L94.45 278.09 L93.3 278.92 L93.31 280.38 L92.59 281.45 L92.87 282.81 L91.99 283.96 L91.58 285.2 L91.96 286.58 L91.95 287.88 L91.24 289.07 L90 288.59 L89.23 287.28 L87.97 286.85 L86.67 286.47 L85.31 286.03 L84.48 284.86 L83.88 283.47 L83.42 282.05 L83.07 280.6 L83.3 279.04 L82.58 277.9 L81.12 277.58 L80.42 276.42 L79.14 276.35 L77.85 276.49 L76.57 276.79 L75.28 276.14Z"/>
<path d="M56.59 264.3 L55.17 264.83 L53.72 265.31 L52.03 265.12 L50.34 265.31 L49.34 266.19 L48.98 267.61 L47.8 268.35 L47.47 270.15 L46.11 271.38 L44.44 271.73 L42.74 271.78 L41.88 272.74 L40.49 272.96 L39.69 274 L38.13 274.72 L36.82 275.82 L35.11 276 L33.44 276.42 L33.94 277.79 L34.39 279.18 L35.13 280.45 L35.26 281.87 L34.64 283.14 L34.29 284.46 L35.44 285.2 L35.6 286.78 L37.22 287.12 L37.66 288.47 L36.76 289.43 L37 290.96 L35.98 291.86 L37.14 291.46 L37.99 290.5 L39.09 289.97 L40.2 289.47 L41.02 288.08 L41.05 286.47 L42.01 287.42 L42.38 288.58 L41.85 290.09 L42.74 291.07 L44 291.28 L45.27 291.47 L45.2 290.11 L46.61 289.25 L46.45 287.87 L45.74 286.53 L44.01 286.35 L43.24 285.06 L42.74 283.46 L43.5 281.91 L44.43 280.45 L45.69 280.01 L46.96 280.45 L47.6 281.89 L47.8 283.46 L48.53 284.87 L49.84 285.91 L50.34 287.47 L50.04 288.65 L50.74 289.89 L50.53 291.09 L49.69 292.24 L50 293.46 L49.43 294.71 L48.73 295.9 L47.87 296.99 L47.32 298.25 L46.62 299.44 L45.88 300.52 L45.36 301.79 L43.88 302.24 L43.24 303.41 L43 304.74 L43.3 305.93 L43.96 307.02 L44.63 308.12 L44.76 309.35 L44.69 310.57 L44.07 311.68 L43.85 312.86 L44.27 314.18 L43.58 315.27 L44.69 316.38 L45.27 317.83 L46.63 318.28 L47.86 319.03 L49.16 319.61 L49.91 318.26 L49.95 316.72 L50.34 315.27 L49.51 314.22 L50.15 312.82 L49.5 311.72 L50.71 310.48 L52.03 309.35 L52.29 310.67 L52.92 311.91 L52.88 313.3 L52.96 314.62 L53.01 315.93 L52.88 317.24 L52.25 318.34 L52.73 319.72 L51.9 320.77 L52.03 322.06 L51.35 323.14 L52.35 322.31 L52.56 320.82 L53.6 320.02 L54.48 319.09 L55.56 318.33 L56.25 317.24 L56.69 315.91 L57.91 315.24 L58.79 314.29 L60.22 314.49 L61.48 315.1 L62.68 315.86 L63.04 314.34 L64 312.98 L63.86 311.33 L64.05 309.84 L64.82 308.44 L64.1 306.82 L64.7 305.39 L65.57 304.24 L65.31 302.76 L65.49 301.41 L66.51 300.31 L67.08 299.07 L66.42 297.47 L67.1 296.27 L67.75 295.06 L68.48 293.54 L68.59 291.86 L69.08 290.71 L69.63 289.59 L70.05 288.38 L70.73 287.34 L71.97 286.65 L73 285.82 L73.15 284.46 L75.18 284.86 L74.68 283.34 L73.27 282.59 L72.31 281.45 L71.03 280.81 L70.46 279.58 L69.78 278.44 L68.42 277.89 L67.01 277.64 L65.55 277.83 L66.51 277.09 L67.01 275.89 L68.11 275.29 L68.93 274.41 L69.19 273.06 L69.64 271.75 L69.78 270.37 L68 270.14 L66.4 269.36 L65.04 269.26 L63.88 269.72 L62.98 270.96 L61.74 271.21 L60.48 271.38 L59.65 270.04 L58.05 269.56 L57.1 268.35 L57.46 266.93 L56.78 265.64Z"/>
<path d="M124.19 251.06 L124.14 252.66 L123.52 254.12 L123.04 255.62 L123.01 257.18 L122 258.06 L121.32 259.22 L119.63 258.2 L120.68 257.03 L120.64 255.32 L121.66 254.12 L122.25 252.9 L123.02 251.81Z"/>
<path d="M181 177.6 L182.05 178.07 L183.2 178.2 L184.6 179.4 L184.77 180.46 L184.89 181.52 L184.8 182.6 L183.57 183.46 L182.6 184.6 L181.48 184.73 L180.4 184.4 L179.3 182.8 L179.54 181.4 L179.8 180 L180.43 178.82Z"/>
<circle cx="198.72" cy="247.99" r="0.9"/>
</g>
<g fill="#fff" stroke="#2a2a2a" stroke-width="0.55" stroke-linejoin="miter">
<path d="M239.53 62.59L240.88 65.09L238.18 65.09Z"/>
<path d="M235.44 64.78L236.79 67.28L234.09 67.28Z"/>
<path d="M236.17 67.41L237.52 69.91L234.82 69.91Z"/>
<path d="M239.09 67.41L240.44 69.91L237.74 69.91Z"/>
<path d="M243.47 67.7L244.82 70.2L242.12 70.2Z"/>
<path d="M249.74 67.7L251.09 70.2L248.39 70.2Z"/>
<path d="M250.77 69.89L252.12 72.39L249.42 72.39Z"/>
<path d="M233.25 72.81L234.6 75.31L231.9 75.31Z"/>
<path d="M236.61 72.81L237.96 75.31L235.26 75.31Z"/>
<path d="M240.11 72.08L241.46 74.58L238.76 74.58Z"/>
<path d="M248.28 73.54L249.63 76.04L246.93 76.04Z"/>
<path d="M232.52 77.92L233.87 80.42L231.17 80.42Z"/>
<path d="M236.61 75.73L237.96 78.23L235.26 78.23Z"/>
<path d="M244.2 80.11L245.55 82.61L242.85 82.61Z"/>
<path d="M251.5 81.13L252.85 83.63L250.15 83.63Z"/>
<path d="M249.74 82.3L251.09 84.8L248.39 84.8Z"/>
<path d="M253.25 84.92L254.6 87.42L251.9 87.42Z"/>
<path d="M255.88 86.68L257.23 89.18L254.53 89.18Z"/>
<path d="M258.8 87.41L260.15 89.91L257.45 89.91Z"/>
<path d="M262.45 89.3L263.8 91.8L261.1 91.8Z"/>
<path d="M265.36 87.84L266.71 90.34L264.01 90.34Z"/>
<path d="M265.36 84.49L266.71 86.99L264.01 86.99Z"/>
<path d="M263.18 80.84L264.53 83.34L261.83 83.34Z"/>
<path d="M264.64 78.65L265.99 81.15L263.29 81.15Z"/>
<path d="M266.82 76.75L268.17 79.25L265.47 79.25Z"/>
<path d="M262.45 74.27L263.8 76.77L261.1 76.77Z"/>
<path d="M267.55 74.27L268.9 76.77L266.2 76.77Z"/>
<path d="M263.18 69.45L264.53 71.95L261.83 71.95Z"/>
<path d="M267.55 69.45L268.9 71.95L266.2 71.95Z"/>
<path d="M270.47 72.08L271.82 74.58L269.12 74.58Z"/>
<path d="M272.66 71.35L274.01 73.85L271.31 73.85Z"/>
<path d="M274.85 69.89L276.2 72.39L273.5 72.39Z"/>
<path d="M278.5 68.43L279.85 70.93L277.15 70.93Z"/>
<path d="M282.88 67.7L284.23 70.2L281.53 70.2Z"/>
<path d="M287.99 66.97L289.34 69.47L286.64 69.47Z"/>
<path d="M291.64 66.53L292.99 69.03L290.29 69.03Z"/>
<path d="M270.47 64.78L271.82 67.28L269.12 67.28Z"/>
<path d="M274.85 64.49L276.2 66.99L273.5 66.99Z"/>
<path d="M278.94 65.07L280.29 67.57L277.59 67.57Z"/>
<path d="M282.15 62.59L283.5 65.09L280.8 65.09Z"/>
<path d="M285.8 64.05L287.15 66.55L284.45 66.55Z"/>
<path d="M286.97 61.13L288.32 63.63L285.62 63.63Z"/>
<path d="M290.18 58.21L291.53 60.71L288.83 60.71Z"/>
<path d="M278.5 57.48L279.85 59.98L277.15 59.98Z"/>
<path d="M283.61 53.1L284.96 55.6L282.26 55.6Z"/>
<path d="M284.34 56.02L285.69 58.52L282.99 58.52Z"/>
<path d="M294.56 49.45L295.91 51.95L293.21 51.95Z"/>
<path d="M296.02 53.1L297.37 55.6L294.67 55.6Z"/>
<path d="M293.83 54.56L295.18 57.06L292.48 57.06Z"/>
<path d="M298.21 54.56L299.56 57.06L296.86 57.06Z"/>
<path d="M296.75 58.94L298.1 61.44L295.4 61.44Z"/>
<path d="M298.94 58.94L300.29 61.44L297.59 61.44Z"/>
<path d="M299.67 61.13L301.02 63.63L298.32 63.63Z"/>
<path d="M302.59 61.86L303.94 64.36L301.24 64.36Z"/>
<path d="M304.05 59.67L305.4 62.17L302.7 62.17Z"/>
<path d="M306.97 59.67L308.32 62.17L305.62 62.17Z"/>
<path d="M298.94 64.05L300.29 66.55L297.59 66.55Z"/>
<path d="M302.59 64.05L303.94 66.55L301.24 66.55Z"/>
<path d="M263.39 91.64L264.74 94.14L262.04 94.14Z"/>
<path d="M229.09 104.05L230.44 106.55L227.74 106.55Z"/>
<path d="M233.47 104.78L234.82 107.28L232.12 107.28Z"/>
<path d="M228.36 107.7L229.71 110.2L227.01 110.2Z"/>
<path d="M232.01 109.16L233.36 111.66L230.66 111.66Z"/>
<path d="M231.28 112.81L232.63 115.31L229.93 115.31Z"/>
<path d="M228.36 115.73L229.71 118.23L227.01 118.23Z"/>
<path d="M232.74 116.46L234.09 118.96L231.39 118.96Z"/>
<path d="M229.82 120.84L231.17 123.34L228.47 123.34Z"/>
<path d="M233.47 121.57L234.82 124.07L232.12 124.07Z"/>
<path d="M235.66 123.76L237.01 126.26L234.31 126.26Z"/>
<path d="M238.58 125.95L239.93 128.45L237.23 128.45Z"/>
<path d="M231.28 125.95L232.63 128.45L229.93 128.45Z"/>
<path d="M214.31 144.05L215.66 146.55L212.96 146.55Z"/>
<path d="M212.12 152.81L213.47 155.31L210.77 155.31Z"/>
<path d="M207.74 153.54L209.09 156.04L206.39 156.04Z"/>
<path d="M207.01 159.38L208.36 161.88L205.66 161.88Z"/>
<path d="M209.93 161.57L211.28 164.07L208.58 164.07Z"/>
<path d="M212.12 165.22L213.47 167.72L210.77 167.72Z"/>
<path d="M209.2 169.59L210.55 172.09L207.85 172.09Z"/>
<path d="M218.91 129.06L220.26 131.56L217.56 131.56Z"/>
<path d="M222.82 130.18L224.17 132.68L221.47 132.68Z"/>
<path d="M231.2 129.06L232.55 131.56L229.85 131.56Z"/>
<path d="M239.02 130.73L240.37 133.23L237.67 133.23Z"/>
<path d="M226.73 132.97L228.08 135.47L225.38 135.47Z"/>
<path d="M233.44 134.09L234.79 136.59L232.09 136.59Z"/>
<path d="M241.26 134.65L242.61 137.15L239.91 137.15Z"/>
<path d="M216.12 135.76L217.47 138.26L214.77 138.26Z"/>
<path d="M227.85 136.88L229.2 139.38L226.5 139.38Z"/>
<path d="M219.47 139.67L220.82 142.17L218.12 142.17Z"/>
<path d="M231.76 139.67L233.11 142.17L230.41 142.17Z"/>
<path d="M237.91 139.11L239.26 141.61L236.56 141.61Z"/>
<path d="M240.14 138L241.49 140.5L238.79 140.5Z"/>
<path d="M242.37 142.47L243.72 144.97L241.02 144.97Z"/>
<path d="M221.15 142.47L222.5 144.97L219.8 144.97Z"/>
<path d="M228.41 141.91L229.76 144.41L227.06 144.41Z"/>
<path d="M233.44 143.03L234.79 145.53L232.09 145.53Z"/>
<path d="M237.35 143.58L238.7 146.08L236 146.08Z"/>
<path d="M242.93 145.82L244.28 148.32L241.58 148.32Z"/>
<path d="M223.38 145.82L224.73 148.32L222.03 148.32Z"/>
<path d="M217.23 146.94L218.58 149.44L215.88 149.44Z"/>
<path d="M228.97 146.38L230.32 148.88L227.62 148.88Z"/>
<path d="M242.37 148.61L243.72 151.11L241.02 151.11Z"/>
<path d="M218.35 150.29L219.7 152.79L217 152.79Z"/>
<path d="M222.26 150.29L223.61 152.79L220.91 152.79Z"/>
<path d="M228.41 149.73L229.76 152.23L227.06 152.23Z"/>
<path d="M235.11 149.73L236.46 152.23L233.76 152.23Z"/>
<path d="M241.26 151.96L242.61 154.46L239.91 154.46Z"/>
<path d="M216.12 153.08L217.47 155.58L214.77 155.58Z"/>
<path d="M221.7 153.64L223.05 156.14L220.35 156.14Z"/>
<path d="M228.97 154.2L230.32 156.7L227.62 156.7Z"/>
<path d="M238.46 155.32L239.81 157.82L237.11 157.82Z"/>
<path d="M232.88 156.43L234.23 158.93L231.53 158.93Z"/>
<path d="M217.23 156.43L218.58 158.93L215.88 158.93Z"/>
<path d="M228.97 158.67L230.32 161.17L227.62 161.17Z"/>
<path d="M236.79 158.11L238.14 160.61L235.44 160.61Z"/>
<path d="M215 162.02L216.35 164.52L213.65 164.52Z"/>
<path d="M226.17 163.14L227.52 165.64L224.82 165.64Z"/>
<path d="M231.2 163.14L232.55 165.64L229.85 165.64Z"/>
<path d="M235.67 162.02L237.02 164.52L234.32 164.52Z"/>
<path d="M234.55 165.37L235.9 167.87L233.2 167.87Z"/>
<path d="M217.23 165.37L218.58 167.87L215.88 167.87Z"/>
<path d="M225.06 166.49L226.41 168.99L223.71 168.99Z"/>
<path d="M230.64 167.05L231.99 169.55L229.29 169.55Z"/>
<path d="M230.36 121.42L231.71 123.92L229.01 123.92Z"/>
<path d="M233.28 120.69L234.63 123.19L231.93 123.19Z"/>
<path d="M234.74 124.34L236.09 126.84L233.39 126.84Z"/>
<path d="M231.09 126.53L232.44 129.03L229.74 129.03Z"/>
<path d="M237.66 125.8L239.01 128.3L236.31 128.3Z"/>
<path d="M209.42 170.07L210.77 172.57L208.07 172.57Z"/>
<path d="M215.26 169.34L216.61 171.84L213.91 171.84Z"/>
<path d="M220.36 171.53L221.71 174.03L219.01 174.03Z"/>
<path d="M234.23 167.15L235.58 169.65L232.88 169.65Z"/>
<path d="M226.93 168.61L228.28 171.11L225.58 171.11Z"/>
<path d="M233.5 171.53L234.85 174.03L232.15 174.03Z"/>
<path d="M205.77 177.37L207.12 179.87L204.42 179.87Z"/>
<path d="M210.15 175.91L211.5 178.41L208.8 178.41Z"/>
<path d="M214.53 172.99L215.88 175.49L213.18 175.49Z"/>
<path d="M219.64 178.1L220.99 180.6L218.29 180.6Z"/>
<path d="M224.01 175.91L225.36 178.41L222.66 178.41Z"/>
<path d="M198.47 178.1L199.82 180.6L197.12 180.6Z"/>
<path d="M181.68 178.1L183.03 180.6L180.33 180.6Z"/>
<path d="M183.87 180.29L185.22 182.79L182.52 182.79Z"/>
<path d="M180.22 181.75L181.57 184.25L178.87 184.25Z"/>
<path d="M193.36 180.29L194.71 182.79L192.01 182.79Z"/>
<path d="M191.9 185.4L193.25 187.9L190.55 187.9Z"/>
<path d="M195.55 185.4L196.9 187.9L194.2 187.9Z"/>
<path d="M201.39 183.94L202.74 186.44L200.04 186.44Z"/>
<path d="M207.23 179.56L208.58 182.06L205.88 182.06Z"/>
<path d="M200.66 185.4L202.01 187.9L199.31 187.9Z"/>
<path d="M206.5 186.13L207.85 188.63L205.15 188.63Z"/>
<path d="M212.34 187.59L213.69 190.09L210.99 190.09Z"/>
<path d="M218.18 182.48L219.53 184.98L216.83 184.98Z"/>
<path d="M222.55 183.94L223.9 186.44L221.2 186.44Z"/>
<path d="M226.2 182.48L227.55 184.98L224.85 184.98Z"/>
<path d="M221.09 186.86L222.44 189.36L219.74 189.36Z"/>
<path d="M216.72 186.86L218.07 189.36L215.37 189.36Z"/>
<path d="M225.47 186.86L226.82 189.36L224.12 189.36Z"/>
<path d="M197.01 191.97L198.36 194.47L195.66 194.47Z"/>
<path d="M201.39 189.78L202.74 192.28L200.04 192.28Z"/>
<path d="M203.58 186.86L204.93 189.36L202.23 189.36Z"/>
<path d="M208.69 189.05L210.04 191.55L207.34 191.55Z"/>
<path d="M211.61 189.78L212.96 192.28L210.26 192.28Z"/>
<path d="M216.72 191.24L218.07 193.74L215.37 193.74Z"/>
<path d="M221.82 189.78L223.17 192.28L220.47 192.28Z"/>
<path d="M226.2 190.51L227.55 193.01L224.85 193.01Z"/>
<path d="M213.8 192.7L215.15 195.2L212.45 195.2Z"/>
<path d="M218.91 193.43L220.26 195.93L217.56 195.93Z"/>
<path d="M223.28 192.7L224.63 195.2L221.93 195.2Z"/>
<path d="M201.39 194.89L202.74 197.39L200.04 197.39Z"/>
<path d="M205.77 194.16L207.12 196.66L204.42 196.66Z"/>
<path d="M207.96 197.08L209.31 199.58L206.61 199.58Z"/>
<path d="M210.88 197.81L212.23 200.31L209.53 200.31Z"/>
<path d="M213.8 196.35L215.15 198.85L212.45 198.85Z"/>
<path d="M217.45 196.35L218.8 198.85L216.1 198.85Z"/>
<path d="M222.55 195.62L223.9 198.12L221.2 198.12Z"/>
<path d="M226.2 195.62L227.55 198.12L224.85 198.12Z"/>
<path d="M179.49 197.08L180.84 199.58L178.14 199.58Z"/>
<path d="M183.14 199.27L184.49 201.77L181.79 201.77Z"/>
<path d="M187.52 199.27L188.87 201.77L186.17 201.77Z"/>
<path d="M195.55 199.27L196.9 201.77L194.2 201.77Z"/>
<path d="M199.2 198.54L200.55 201.04L197.85 201.04Z"/>
<path d="M203.58 198.54L204.93 201.04L202.23 201.04Z"/>
<path d="M212.34 200.73L213.69 203.23L210.99 203.23Z"/>
<path d="M215.26 201.46L216.61 203.96L213.91 203.96Z"/>
<path d="M225.47 198.54L226.82 201.04L224.12 201.04Z"/>
<path d="M178.76 202.19L180.11 204.69L177.41 204.69Z"/>
<path d="M181.68 202.92L183.03 205.42L180.33 205.42Z"/>
<path d="M189.71 204.38L191.06 206.88L188.36 206.88Z"/>
<path d="M191.9 202.92L193.25 205.42L190.55 205.42Z"/>
<path d="M194.09 205.84L195.44 208.34L192.74 208.34Z"/>
<path d="M197.01 205.11L198.36 207.61L195.66 207.61Z"/>
<path d="M204.31 203.65L205.66 206.15L202.96 206.15Z"/>
<path d="M208.69 204.38L210.04 206.88L207.34 206.88Z"/>
<path d="M212.34 204.38L213.69 206.88L210.99 206.88Z"/>
<path d="M216.72 205.84L218.07 208.34L215.37 208.34Z"/>
<path d="M172.92 210.22L174.27 212.72L171.57 212.72Z"/>
<path d="M177.3 210.22L178.65 212.72L175.95 212.72Z"/>
<path d="M180.95 207.3L182.3 209.8L179.6 209.8Z"/>
<path d="M184.6 208.03L185.95 210.53L183.25 210.53Z"/>
<path d="M188.25 210.22L189.6 212.72L186.9 212.72Z"/>
<path d="M191.9 208.76L193.25 211.26L190.55 211.26Z"/>
<path d="M199.2 207.3L200.55 209.8L197.85 209.8Z"/>
<path d="M205.04 208.76L206.39 211.26L203.69 211.26Z"/>
<path d="M207.96 208.76L209.31 211.26L206.61 211.26Z"/>
<path d="M210.88 210.22L212.23 212.72L209.53 212.72Z"/>
<path d="M213.8 210.22L215.15 212.72L212.45 212.72Z"/>
<path d="M216.72 208.76L218.07 211.26L215.37 211.26Z"/>
<path d="M220.36 208.76L221.71 211.26L219.01 211.26Z"/>
<path d="M174.38 213.86L175.73 216.36L173.03 216.36Z"/>
<path d="M180.22 213.14L181.57 215.64L178.87 215.64Z"/>
<path d="M197.74 212.41L199.09 214.91L196.39 214.91Z"/>
<path d="M202.12 213.14L203.47 215.64L200.77 215.64Z"/>
<path d="M205.77 213.14L207.12 215.64L204.42 215.64Z"/>
<path d="M210.15 212.41L211.5 214.91L208.8 214.91Z"/>
<path d="M213.07 213.14L214.42 215.64L211.72 215.64Z"/>
<path d="M216.72 213.86L218.07 216.36L215.37 216.36Z"/>
<path d="M162.06 189.19L163.41 191.69L160.71 191.69Z"/>
<path d="M163.61 190.22L164.96 192.72L162.26 192.72Z"/>
<path d="M161.02 193.32L162.37 195.82L159.67 195.82Z"/>
<path d="M157.4 198.49L158.75 200.99L156.05 200.99Z"/>
<path d="M158.44 199.01L159.79 201.51L157.09 201.51Z"/>
<path d="M154.82 202.11L156.17 204.61L153.47 204.61Z"/>
<path d="M157.4 202.63L158.75 205.13L156.05 205.13Z"/>
<path d="M153.27 205.73L154.62 208.23L151.92 208.23Z"/>
<path d="M156.89 205.73L158.24 208.23L155.54 208.23Z"/>
<path d="M151.72 208.84L153.07 211.34L150.37 211.34Z"/>
<path d="M156.37 208.32L157.72 210.82L155.02 210.82Z"/>
<path d="M161.02 208.32L162.37 210.82L159.67 210.82Z"/>
<path d="M163.09 207.8L164.44 210.3L161.74 210.3Z"/>
<path d="M165.68 208.84L167.03 211.34L164.33 211.34Z"/>
<path d="M159.99 203.67L161.34 206.17L158.64 206.17Z"/>
<path d="M165.16 203.15L166.51 205.65L163.81 205.65Z"/>
<path d="M167.23 201.6L168.58 204.1L165.88 204.1Z"/>
<path d="M169.3 200.05L170.65 202.55L167.95 202.55Z"/>
<path d="M167.23 215.56L168.58 218.06L165.88 218.06Z"/>
<path d="M171.39 216.64L172.74 219.14L170.04 219.14Z"/>
<path d="M211.53 218.1L212.88 220.6L210.18 220.6Z"/>
<path d="M213.72 216.64L215.07 219.14L212.37 219.14Z"/>
<path d="M216.64 218.1L217.99 220.6L215.29 220.6Z"/>
<path d="M218.83 219.56L220.18 222.06L217.48 222.06Z"/>
<path d="M215.91 222.48L217.26 224.98L214.56 224.98Z"/>
<path d="M219.56 221.75L220.91 224.25L218.21 224.25Z"/>
<path d="M221.02 225.4L222.37 227.9L219.67 227.9Z"/>
<path d="M223.21 226.13L224.56 228.63L221.86 228.63Z"/>
<path d="M214.45 226.86L215.8 229.36L213.1 229.36Z"/>
<path d="M217.37 228.32L218.72 230.82L216.02 230.82Z"/>
<path d="M186.72 226.86L188.07 229.36L185.37 229.36Z"/>
<path d="M190.36 229.05L191.71 231.55L189.01 231.55Z"/>
<path d="M184.53 230.51L185.88 233.01L183.18 233.01Z"/>
<path d="M181.61 231.97L182.96 234.47L180.26 234.47Z"/>
<path d="M183.8 234.89L185.15 237.39L182.45 237.39Z"/>
<path d="M186.72 232.7L188.07 235.2L185.37 235.2Z"/>
<path d="M188.91 234.89L190.26 237.39L187.56 237.39Z"/>
<path d="M191.82 232.7L193.17 235.2L190.47 235.2Z"/>
<path d="M194.01 231.97L195.36 234.47L192.66 234.47Z"/>
<path d="M196.2 233.43L197.55 235.93L194.85 235.93Z"/>
<path d="M198.39 233.43L199.74 235.93L197.04 235.93Z"/>
<path d="M200.58 234.16L201.93 236.66L199.23 236.66Z"/>
<path d="M202.77 234.89L204.12 237.39L201.42 237.39Z"/>
<path d="M203.5 237.08L204.85 239.58L202.15 239.58Z"/>
<path d="M199.12 238.54L200.47 241.04L197.77 241.04Z"/>
<path d="M195.47 237.08L196.82 239.58L194.12 239.58Z"/>
<path d="M192.55 238.54L193.9 241.04L191.2 241.04Z"/>
<path d="M189.64 240L190.99 242.5L188.29 242.5Z"/>
<path d="M186.72 239.27L188.07 241.77L185.37 241.77Z"/>
<path d="M183.8 240L185.15 242.5L182.45 242.5Z"/>
<path d="M180.15 238.54L181.5 241.04L178.8 241.04Z"/>
<path d="M177.23 237.81L178.58 240.31L175.88 240.31Z"/>
<path d="M174.31 241.46L175.66 243.96L172.96 243.96Z"/>
<path d="M178.69 242.92L180.04 245.42L177.34 245.42Z"/>
<path d="M182.34 242.92L183.69 245.42L180.99 245.42Z"/>
<path d="M185.99 243.65L187.34 246.15L184.64 246.15Z"/>
<path d="M190.36 244.38L191.71 246.88L189.01 246.88Z"/>
<path d="M192.55 245.84L193.9 248.34L191.2 248.34Z"/>
<path d="M196.93 245.11L198.28 247.61L195.58 247.61Z"/>
<path d="M199.12 247.3L200.47 249.8L197.77 249.8Z"/>
<path d="M201.31 244.38L202.66 246.88L199.96 246.88Z"/>
<path d="M188.18 247.3L189.53 249.8L186.83 249.8Z"/>
<path d="M184.53 247.3L185.88 249.8L183.18 249.8Z"/>
<path d="M179.42 246.57L180.77 249.07L178.07 249.07Z"/>
<path d="M175.77 246.57L177.12 249.07L174.42 249.07Z"/>
<path d="M169.2 246.57L170.55 249.07L167.85 249.07Z"/>
<path d="M165.55 247.3L166.9 249.8L164.2 249.8Z"/>
<path d="M163.36 245.84L164.71 248.34L162.01 248.34Z"/>
<path d="M160.44 247.3L161.79 249.8L159.09 249.8Z"/>
<path d="M157.52 244.38L158.87 246.88L156.17 246.88Z"/>
<path d="M153.87 251.68L155.22 254.18L152.52 254.18Z"/>
<path d="M150.95 250.22L152.3 252.72L149.6 252.72Z"/>
<path d="M148.03 253.86L149.38 256.36L146.68 256.36Z"/>
<path d="M152.41 253.86L153.76 256.36L151.06 256.36Z"/>
<path d="M155.33 253.86L156.68 256.36L153.98 256.36Z"/>
<path d="M141.46 242.92L142.81 245.42L140.11 245.42Z"/>
<path d="M142.92 245.84L144.27 248.34L141.57 248.34Z"/>
<path d="M140 247.3L141.35 249.8L138.65 249.8Z"/>
<path d="M93.58 229.78L94.93 232.28L92.23 232.28Z"/>
<path d="M87.01 232.7L88.36 235.2L85.66 235.2Z"/>
<path d="M89.93 234.89L91.28 237.39L88.58 237.39Z"/>
<path d="M92.85 234.16L94.2 236.66L91.5 236.66Z"/>
<path d="M90.66 237.81L92.01 240.31L89.31 240.31Z"/>
<path d="M94.31 238.54L95.66 241.04L92.96 241.04Z"/>
<path d="M102.34 230.51L103.69 233.01L100.99 233.01Z"/>
<path d="M109.64 230.51L110.99 233.01L108.29 233.01Z"/>
<path d="M112.55 234.16L113.9 236.66L111.2 236.66Z"/>
<path d="M115.47 234.16L116.82 236.66L114.12 236.66Z"/>
<path d="M77.52 240.73L78.87 243.23L76.17 243.23Z"/>
<path d="M80.44 240.73L81.79 243.23L79.09 243.23Z"/>
<path d="M84.09 240L85.44 242.5L82.74 242.5Z"/>
<path d="M88.47 240.73L89.82 243.23L87.12 243.23Z"/>
<path d="M89.93 242.19L91.28 244.69L88.58 244.69Z"/>
<path d="M92.12 241.46L93.47 243.96L90.77 243.96Z"/>
<path d="M95.04 242.92L96.39 245.42L93.69 245.42Z"/>
<path d="M98.69 242.19L100.04 244.69L97.34 244.69Z"/>
<path d="M103.8 239.27L105.15 241.77L102.45 241.77Z"/>
<path d="M106.72 241.46L108.07 243.96L105.37 243.96Z"/>
<path d="M109.64 238.54L110.99 241.04L108.29 241.04Z"/>
<path d="M113.28 237.81L114.63 240.31L111.93 240.31Z"/>
<path d="M99.42 245.84L100.77 248.34L98.07 248.34Z"/>
<path d="M103.8 244.38L105.15 246.88L102.45 246.88Z"/>
<path d="M108.18 242.92L109.53 245.42L106.83 245.42Z"/>
<path d="M112.55 241.46L113.9 243.96L111.2 243.96Z"/>
<path d="M94.31 245.84L95.66 248.34L92.96 248.34Z"/>
<path d="M95.77 246.57L97.12 249.07L94.42 249.07Z"/>
<path d="M90.66 245.84L92.01 248.34L89.31 248.34Z"/>
<path d="M84.82 245.11L86.17 247.61L83.47 247.61Z"/>
<path d="M81.9 245.84L83.25 248.34L80.55 248.34Z"/>
<path d="M78.98 247.3L80.33 249.8L77.63 249.8Z"/>
<path d="M74.6 247.3L75.95 249.8L73.25 249.8Z"/>
<path d="M73.14 250.22L74.49 252.72L71.79 252.72Z"/>
<path d="M78.98 250.95L80.33 253.45L77.63 253.45Z"/>
<path d="M81.9 251.68L83.25 254.18L80.55 254.18Z"/>
<path d="M86.28 250.22L87.63 252.72L84.93 252.72Z"/>
<path d="M89.2 250.95L90.55 253.45L87.85 253.45Z"/>
<path d="M68.76 247.3L70.11 249.8L67.41 249.8Z"/>
<path d="M65.84 251.68L67.19 254.18L64.49 254.18Z"/>
<path d="M63.65 253.86L65 256.36L62.3 256.36Z"/>
<path d="M70.95 253.14L72.3 255.64L69.6 255.64Z"/>
<path d="M109.64 250.22L110.99 252.72L108.29 252.72Z"/>
<path d="M112.55 251.68L113.9 254.18L111.2 254.18Z"/>
<path d="M115.47 250.22L116.82 252.72L114.12 252.72Z"/>
<path d="M132.99 237.81L134.34 240.31L131.64 240.31Z"/>
<path d="M130.8 240.73L132.15 243.23L129.45 243.23Z"/>
<path d="M129.34 242.19L130.69 244.69L127.99 244.69Z"/>
<path d="M132.26 242.62L133.61 245.12L130.91 245.12Z"/>
<path d="M135.18 242.19L136.53 244.69L133.83 244.69Z"/>
<path d="M137.37 240.73L138.72 243.23L136.02 243.23Z"/>
<path d="M139.56 241.46L140.91 243.96L138.21 243.96Z"/>
<path d="M142.48 243.65L143.83 246.15L141.13 246.15Z"/>
<path d="M138.83 245.11L140.18 247.61L137.48 247.61Z"/>
<path d="M135.91 245.84L137.26 248.34L134.56 248.34Z"/>
<path d="M132.99 247.3L134.34 249.8L131.64 249.8Z"/>
<path d="M130.07 248.76L131.42 251.26L128.72 251.26Z"/>
<path d="M132.26 250.22L133.61 252.72L130.91 252.72Z"/>
<path d="M135.91 249.49L137.26 251.99L134.56 251.99Z"/>
<path d="M138.1 251.68L139.45 254.18L136.75 254.18Z"/>
<path d="M128.61 251.68L129.96 254.18L127.26 254.18Z"/>
<path d="M124.23 250.22L125.58 252.72L122.88 252.72Z"/>
<path d="M121.31 248.76L122.66 251.26L119.96 251.26Z"/>
<path d="M119.12 247.3L120.47 249.8L117.77 249.8Z"/>
<path d="M116.93 245.11L118.28 247.61L115.58 247.61Z"/>
<path d="M125.69 245.11L127.04 247.61L124.34 247.61Z"/>
<path d="M122.77 245.84L124.12 248.34L121.42 248.34Z"/>
<path d="M141.02 247.3L142.37 249.8L139.67 249.8Z"/>
<path d="M143.21 248.76L144.56 251.26L141.86 251.26Z"/>
<path d="M147.59 251.68L148.94 254.18L146.24 254.18Z"/>
<path d="M151.24 250.22L152.59 252.72L149.89 252.72Z"/>
<path d="M153.43 252.41L154.78 254.91L152.08 254.91Z"/>
<path d="M150.51 253.86L151.86 256.36L149.16 256.36Z"/>
<path d="M113.98 257.37L115.33 259.87L112.63 259.87Z"/>
<path d="M117.63 257.37L118.98 259.87L116.28 259.87Z"/>
<path d="M118.36 259.56L119.71 262.06L117.01 262.06Z"/>
<path d="M126.39 258.1L127.74 260.6L125.04 260.6Z"/>
<path d="M127.85 257.37L129.2 259.87L126.5 259.87Z"/>
<path d="M137.34 257.37L138.69 259.87L135.99 259.87Z"/>
<path d="M141.72 258.83L143.07 261.33L140.37 261.33Z"/>
<path d="M137.34 262.48L138.69 264.98L135.99 264.98Z"/>
<path d="M132.96 263.21L134.31 265.71L131.61 265.71Z"/>
<path d="M138.8 264.67L140.15 267.17L137.45 267.17Z"/>
<path d="M143.18 262.48L144.53 264.98L141.83 264.98Z"/>
<path d="M145.36 260.29L146.71 262.79L144.01 262.79Z"/>
<path d="M132.23 266.86L133.58 269.36L130.88 269.36Z"/>
<path d="M135.15 268.32L136.5 270.82L133.8 270.82Z"/>
<path d="M141.72 267.59L143.07 270.09L140.37 270.09Z"/>
<path d="M137.34 269.78L138.69 272.28L135.99 272.28Z"/>
<path d="M154.85 256.64L156.2 259.14L153.5 259.14Z"/>
<path d="M151.93 255.91L153.28 258.41L150.58 258.41Z"/>
<path d="M147.55 257.37L148.9 259.87L146.2 259.87Z"/>
<path d="M34.66 266.68L36.01 269.18L33.31 269.18Z"/>
<path d="M49.33 264.92L50.68 267.42L47.98 267.42Z"/>
<path d="M51.67 263.75L53.02 266.25L50.32 266.25Z"/>
<path d="M54.6 263.75L55.95 266.25L53.25 266.25Z"/>
<path d="M52.26 269.03L53.61 271.53L50.91 271.53Z"/>
<path d="M54.6 270.2L55.95 272.7L53.25 272.7Z"/>
<path d="M49.33 271.96L50.68 274.46L47.98 274.46Z"/>
<path d="M46.98 273.72L48.33 276.22L45.63 276.22Z"/>
<path d="M42.87 271.96L44.22 274.46L41.52 274.46Z"/>
<path d="M41.11 275.48L42.46 277.98L39.76 277.98Z"/>
<path d="M39.35 273.72L40.7 276.22L38 276.22Z"/>
<path d="M37.6 271.96L38.95 274.46L36.25 274.46Z"/>
<path d="M44.63 276.65L45.98 279.15L43.28 279.15Z"/>
<path d="M48.15 277.24L49.5 279.74L46.8 279.74Z"/>
<path d="M51.67 274.89L53.02 277.39L50.32 277.39Z"/>
<path d="M55.19 274.89L56.54 277.39L53.84 277.39Z"/>
<path d="M58.71 272.55L60.06 275.05L57.36 275.05Z"/>
<path d="M61.06 273.13L62.41 275.63L59.71 275.63Z"/>
<path d="M62.23 276.65L63.58 279.15L60.88 279.15Z"/>
<path d="M57.54 276.65L58.89 279.15L56.19 279.15Z"/>
<path d="M54.02 279L55.37 281.5L52.67 281.5Z"/>
<path d="M51.09 279.59L52.44 282.09L49.74 282.09Z"/>
<path d="M48.15 280.17L49.5 282.67L46.8 282.67Z"/>
<path d="M44.63 279.59L45.98 282.09L43.28 282.09Z"/>
<path d="M41.11 279L42.46 281.5L39.76 281.5Z"/>
<path d="M38.77 277.83L40.12 280.33L37.42 280.33Z"/>
<path d="M36.42 278.41L37.77 280.91L35.07 280.91Z"/>
<path d="M35.25 280.17L36.6 282.67L33.9 282.67Z"/>
<path d="M37.6 281.34L38.95 283.84L36.25 283.84Z"/>
<path d="M39.35 283.69L40.7 286.19L38 286.19Z"/>
<path d="M42.29 283.69L43.64 286.19L40.94 286.19Z"/>
<path d="M44.63 284.86L45.98 287.36L43.28 287.36Z"/>
<path d="M46.98 286.04L48.33 288.54L45.63 288.54Z"/>
<path d="M43.46 287.21L44.81 289.71L42.11 289.71Z"/>
<path d="M38.77 286.62L40.12 289.12L37.42 289.12Z"/>
<path d="M37.01 287.8L38.36 290.3L35.66 290.3Z"/>
<path d="M58.71 279.59L60.06 282.09L57.36 282.09Z"/>
<path d="M63.4 279.59L64.75 282.09L62.05 282.09Z"/>
<path d="M66.92 277.24L68.27 279.74L65.57 279.74Z"/>
<path d="M68.09 280.17L69.44 282.67L66.74 282.67Z"/>
<path d="M63.99 282.52L65.34 285.02L62.64 285.02Z"/>
<path d="M62.23 286.04L63.58 288.54L60.88 288.54Z"/>
<path d="M68.09 285.45L69.44 287.95L66.74 287.95Z"/>
<path d="M71.61 284.28L72.96 286.78L70.26 286.78Z"/>
<path d="M73.96 283.69L75.31 286.19L72.61 286.19Z"/>
<path d="M67.51 287.21L68.86 289.71L66.16 289.71Z"/>
<path d="M70.44 279.59L71.79 282.09L69.09 282.09Z"/>
<path d="M65.75 274.89L67.1 277.39L64.4 277.39Z"/>
<path d="M66.92 272.55L68.27 275.05L65.57 275.05Z"/>
<path d="M60.47 253.78L61.82 256.28L59.12 256.28Z"/>
<path d="M61.06 257.3L62.41 259.8L59.71 259.8Z"/>
<path d="M58.71 260.23L60.06 262.73L57.36 262.73Z"/>
<path d="M61.64 261.4L62.99 263.9L60.29 263.9Z"/>
<path d="M63.4 260.82L64.75 263.32L62.05 263.32Z"/>
<path d="M65.16 260.82L66.51 263.32L63.81 263.32Z"/>
<path d="M66.92 260.82L68.27 263.32L65.57 263.32Z"/>
<path d="M69.27 260.23L70.62 262.73L67.92 262.73Z"/>
<path d="M68.09 248.5L69.44 251L66.74 251Z"/>
<path d="M71.61 249.67L72.96 252.17L70.26 252.17Z"/>
<path d="M74.55 250.26L75.9 252.76L73.2 252.76Z"/>
<path d="M79.82 251.43L81.17 253.93L78.47 253.93Z"/>
<path d="M85.69 249.67L87.04 252.17L84.34 252.17Z"/>
<path d="M73.37 256.71L74.72 259.21L72.02 259.21Z"/>
<path d="M72.2 254.95L73.55 257.45L70.85 257.45Z"/>
<path d="M75.13 257.88L76.48 260.38L73.78 260.38Z"/>
<path d="M77.48 257.3L78.83 259.8L76.13 259.8Z"/>
<path d="M79.24 255.54L80.59 258.04L77.89 258.04Z"/>
<path d="M76.3 259.64L77.65 262.14L74.95 262.14Z"/>
<path d="M83.34 259.06L84.69 261.56L81.99 261.56Z"/>
<path d="M39.94 294.64L41.29 297.14L38.59 297.14Z"/>
<path d="M42.29 295.23L43.64 297.73L40.94 297.73Z"/>
<path d="M44.63 294.06L45.98 296.56L43.28 296.56Z"/>
<path d="M41.11 298.16L42.46 300.66L39.76 300.66Z"/>
<path d="M43.46 298.75L44.81 301.25L42.11 301.25Z"/>
<path d="M45.81 296.4L47.16 298.9L44.46 298.9Z"/>
<path d="M48.74 294.64L50.09 297.14L47.39 297.14Z"/>
<path d="M51.09 296.4L52.44 298.9L49.74 298.9Z"/>
<path d="M52.84 297.58L54.19 300.08L51.49 300.08Z"/>
<path d="M55.19 295.23L56.54 297.73L53.84 297.73Z"/>
<path d="M57.54 296.4L58.89 298.9L56.19 298.9Z"/>
<path d="M59.88 296.99L61.23 299.49L58.53 299.49Z"/>
<path d="M61.64 295.23L62.99 297.73L60.29 297.73Z"/>
<path d="M59.3 292.3L60.65 294.8L57.95 294.8Z"/>
<path d="M61.64 292.88L62.99 295.38L60.29 295.38Z"/>
<path d="M63.99 292.3L65.34 294.8L62.64 294.8Z"/>
<path d="M64.57 290.54L65.92 293.04L63.22 293.04Z"/>
<path d="M66.92 290.54L68.27 293.04L65.57 293.04Z"/>
<path d="M55.19 292.88L56.54 295.38L53.84 295.38Z"/>
<path d="M51.67 292.88L53.02 295.38L50.32 295.38Z"/>
<path d="M48.15 292.3L49.5 294.8L46.8 294.8Z"/>
<path d="M49.33 299.92L50.68 302.42L47.98 302.42Z"/>
<path d="M64.57 298.75L65.92 301.25L63.22 301.25Z"/>
<path d="M66.92 296.99L68.27 299.49L65.57 299.49Z"/>
<path d="M65.75 294.06L67.1 296.56L64.4 296.56Z"/>
<path d="M50.35 300.68L51.7 303.18L49 303.18Z"/>
<path d="M54.72 301.41L56.07 303.91L53.37 303.91Z"/>
<path d="M57.26 302.86L58.61 305.36L55.91 305.36Z"/>
<path d="M61.98 301.41L63.33 303.91L60.63 303.91Z"/>
<path d="M64.16 299.95L65.51 302.45L62.81 302.45Z"/>
<path d="M61.26 303.95L62.61 306.45L59.91 306.45Z"/>
<path d="M63.07 305.77L64.42 308.27L61.72 308.27Z"/>
<path d="M52.17 303.95L53.52 306.45L50.82 306.45Z"/>
<path d="M52.53 306.49L53.88 308.99L51.18 308.99Z"/>
<path d="M50.35 308.67L51.7 311.17L49 311.17Z"/>
<path d="M45.27 308.31L46.62 310.81L43.92 310.81Z"/>
<path d="M44.9 311.22L46.25 313.72L43.55 313.72Z"/>
<path d="M57.62 308.67L58.97 311.17L56.27 311.17Z"/>
<path d="M58.35 311.94L59.7 314.44L57 314.44Z"/>
<path d="M63.44 309.76L64.79 312.26L62.09 312.26Z"/>
<path d="M61.98 313.03L63.33 315.53L60.63 315.53Z"/>
<path d="M57.62 315.94L58.97 318.44L56.27 318.44Z"/>
<path d="M54.72 313.76L56.07 316.26L53.37 316.26Z"/>
<path d="M43.45 314.12L44.8 316.62L42.1 316.62Z"/>
<path d="M47.45 302.86L48.8 305.36L46.1 305.36Z"/>
<path d="M42.36 304.31L43.71 306.81L41.01 306.81Z"/>
</g>
<g stroke-width="0.4" fill-opacity="0.85">
<circle cx="243.3" cy="76.7" r="3.0" fill="#6cc06f" stroke="#444" stroke-opacity="0.75"/>
<circle cx="298.2" cy="70.7" r="3.6" fill="#e9e63a" stroke="#444" stroke-opacity="0.75"/>
<circle cx="299.7" cy="72.8" r="2.6" fill="#e9e63a" stroke="#444" stroke-opacity="0.75"/>
<circle cx="286.1" cy="84" r="2.5" fill="#c8e070" stroke="#444" stroke-opacity="0.75"/>
<circle cx="278.3" cy="97" r="9.6" fill="#c5df7a" stroke="#444" stroke-opacity="0.75"/>
<circle cx="271.7" cy="99.1" r="4.7" fill="#4aa0a0" stroke="#444" stroke-opacity="0.75"/>
<circle cx="279.7" cy="97.4" r="3.3" fill="#5cc07a" stroke="#444" stroke-opacity="0.75"/>
<circle cx="254.6" cy="119.4" r="2.6" fill="#c8e070" stroke="#444" stroke-opacity="0.75"/>
<circle cx="253" cy="138" r="3.1" fill="#8fd88a" stroke="#444" stroke-opacity="0.75"/>
<circle cx="248.5" cy="141.2" r="1.8" fill="#55b0c0" stroke="#444" stroke-opacity="0.75"/>
<circle cx="263.3" cy="139.7" r="3.4" fill="#7b98c8" stroke="#444" stroke-opacity="0.75"/>
<circle cx="224.5" cy="141.2" r="1.5" fill="#7a80c8" stroke="#444" stroke-opacity="0.75"/>
<circle cx="253.8" cy="154.8" r="3.0" fill="#4fb8b0" stroke="#444" stroke-opacity="0.75"/>
<circle cx="245.4" cy="161.8" r="3.4" fill="#e8e860" stroke="#444" stroke-opacity="0.75"/>
<circle cx="224.5" cy="158" r="4.0" fill="#8a7dc8" stroke="#444" stroke-opacity="0.75"/>
<circle cx="220" cy="160.6" r="2.0" fill="#3d2a80" stroke="#444" stroke-opacity="0.75"/>
<circle cx="200.6" cy="167.1" r="2.8" fill="#6a8ac0" stroke="#444" stroke-opacity="0.75"/>
<circle cx="228.9" cy="171.7" r="2.2" fill="#6a8ac0" stroke="#444" stroke-opacity="0.75"/>
<circle cx="248.5" cy="171.6" r="2.0" fill="#50c090" stroke="#444" stroke-opacity="0.75"/>
<circle cx="248.1" cy="176.7" r="4.4" fill="#c0e060" stroke="#444" stroke-opacity="0.75"/>
<circle cx="249.6" cy="178.1" r="2.6" fill="#90d060" stroke="#444" stroke-opacity="0.75"/>
<circle cx="240.1" cy="186.2" r="2.9" fill="#a8dc78" stroke="#444" stroke-opacity="0.75"/>
<circle cx="247.4" cy="190.5" r="3.6" fill="#6cc8a0" stroke="#444" stroke-opacity="0.75"/>
<circle cx="236.4" cy="193.9" r="3.9" fill="#50b0b8" stroke="#444" stroke-opacity="0.75"/>
<circle cx="248.5" cy="200" r="2.9" fill="#70c8a0" stroke="#444" stroke-opacity="0.75"/>
<circle cx="185.8" cy="189.7" r="3.0" fill="#4a9ab8" stroke="#444" stroke-opacity="0.75"/>
<circle cx="191" cy="194.8" r="3.4" fill="#2c4a8a" stroke="#444" stroke-opacity="0.75"/>
<circle cx="192.2" cy="193.3" r="2.4" fill="#3a1e70" stroke="#444" stroke-opacity="0.75"/>
<circle cx="185.8" cy="201.5" r="2.1" fill="#5a3a98" stroke="#444" stroke-opacity="0.75"/>
<circle cx="173.4" cy="207.8" r="2.1" fill="#7a5ab8" stroke="#444" stroke-opacity="0.75"/>
<circle cx="209.7" cy="195.7" r="1.2" fill="#7a5ac0" stroke="#444" stroke-opacity="0.75"/>
<circle cx="199.2" cy="204.1" r="1.8" fill="#7a5ab8" stroke="#444" stroke-opacity="0.75"/>
<circle cx="220.4" cy="200.8" r="2.3" fill="#4a62a8" stroke="#444" stroke-opacity="0.75"/>
<circle cx="219.6" cy="205.1" r="2.3" fill="#4a62a8" stroke="#444" stroke-opacity="0.75"/>
<circle cx="221.8" cy="203.7" r="2.0" fill="#5a4aa8" stroke="#444" stroke-opacity="0.75"/>
<circle cx="153.6" cy="196.9" r="3.2" fill="#7a88c8" stroke="#444" stroke-opacity="0.75"/>
<circle cx="230.5" cy="219.6" r="7.4" fill="#c5dd5a" stroke="#444" stroke-opacity="0.75"/>
<circle cx="187.4" cy="236.8" r="1.8" fill="#7aa0d0" stroke="#444" stroke-opacity="0.75"/>
<circle cx="195.2" cy="244.1" r="1.6" fill="#3a1a70" stroke="#444" stroke-opacity="0.75"/>
<circle cx="183.6" cy="246.4" r="2.3" fill="#2aa8a8" stroke="#444" stroke-opacity="0.75"/>
<circle cx="184.8" cy="248.8" r="2.3" fill="#2aa8a8" stroke="#444" stroke-opacity="0.75"/>
<circle cx="97.2" cy="237.1" r="3.2" fill="#6070b8" stroke="#444" stroke-opacity="0.75"/>
<circle cx="105.5" cy="235.4" r="2.5" fill="#6070b8" stroke="#444" stroke-opacity="0.75"/>
<circle cx="84.1" cy="239" r="1.8" fill="#6070b8" stroke="#444" stroke-opacity="0.75"/>
<circle cx="68" cy="254.5" r="1.8" fill="#5070b0" stroke="#444" stroke-opacity="0.75"/>
<circle cx="135.2" cy="246.2" r="1.6" fill="#4a70b0" stroke="#444" stroke-opacity="0.75"/>
<circle cx="122" cy="254.8" r="1.8" fill="#4a70b0" stroke="#444" stroke-opacity="0.75"/>
<circle cx="154.9" cy="283" r="4.4" fill="#98d070" stroke="#444" stroke-opacity="0.75"/>
<circle cx="161.4" cy="280.5" r="4.8" fill="#d8e060" stroke="#444" stroke-opacity="0.75"/>
<circle cx="43.2" cy="268.2" r="2.85" fill="#7c74c4" stroke="#444" stroke-opacity="0.75"/>
<circle cx="60" cy="283.8" r="2.0" fill="#4a3a9a" stroke="#444" stroke-opacity="0.75"/>
<circle cx="51.8" cy="287.1" r="3.2" fill="#3d4f9f" stroke="#444" stroke-opacity="0.75"/>
<circle cx="53.2" cy="288.6" r="3.6" fill="#3d4f9f" stroke="#444" stroke-opacity="0.75"/>
<circle cx="46" cy="304.4" r="2.1" fill="#5040a0" stroke="#444" stroke-opacity="0.75"/>
<circle cx="67.5" cy="307.5" r="2.6" fill="#70d090" stroke="#444" stroke-opacity="0.75"/>
<circle cx="74.2" cy="307.5" r="2.8" fill="#b0dc70" stroke="#444" stroke-opacity="0.75"/>
</g>
</g>
<g fill="#000">
<rect x="40.2" y="1.6" width="84.5" height="2"/>
<rect x="40.2" y="337.4" width="84.5" height="2.1"/>
<rect x="209.2" y="1.6" width="84.5" height="2"/>
<rect x="209.2" y="337.4" width="84.5" height="2.1"/>
<rect x="16.2" y="22.5" width="2.2" height="114.3"/>
<rect x="324.0" y="22.5" width="2.2" height="114.3"/>
<rect x="16.2" y="242.9" width="2.2" height="94.5"/>
<rect x="324.0" y="242.9" width="2.2" height="94.5"/>
</g>
<rect x="16.2" y="1.6" width="310" height="337.9" fill="none" stroke="#888" stroke-width="0.5"/>
<rect x="18.4" y="3.6" width="305.6" height="333.8" fill="none" stroke="#888" stroke-width="0.5"/>
<g stroke="#555" stroke-width="0.4">
<line x1="14.2" y1="22.5" x2="16.2" y2="22.5"/>
<line x1="14.2" y1="136.8" x2="16.2" y2="136.8"/>
<line x1="14.2" y1="242.9" x2="16.2" y2="242.9"/>
<line x1="40.2" y1="339.5" x2="40.2" y2="341.1"/>
<line x1="40.2" y1="0.2" x2="40.2" y2="1.6"/>
<line x1="124.7" y1="339.5" x2="124.7" y2="341.1"/>
<line x1="124.7" y1="0.2" x2="124.7" y2="1.6"/>
<line x1="209.2" y1="339.5" x2="209.2" y2="341.1"/>
<line x1="209.2" y1="0.2" x2="209.2" y2="1.6"/>
<line x1="293.7" y1="339.5" x2="293.7" y2="341.1"/>
<line x1="293.7" y1="0.2" x2="293.7" y2="1.6"/>
<line x1="326.2" y1="22.5" x2="327.59999999999997" y2="22.5"/>
<line x1="326.2" y1="136.8" x2="327.59999999999997" y2="136.8"/>
<line x1="326.2" y1="242.9" x2="327.59999999999997" y2="242.9"/>
</g>
<g font-family="Liberation Sans" font-size="5.5" fill="#333">
<text x="13.6" y="24.5" text-anchor="end">45°N</text>
<text x="13.6" y="138.8" text-anchor="end">40°N</text>
<text x="13.6" y="244.9" text-anchor="end">35°N</text>
<text x="40.2" y="346.2" text-anchor="middle">130°E</text>
<text x="124.7" y="346.2" text-anchor="middle">135°E</text>
<text x="209.2" y="346.2" text-anchor="middle">140°E</text>
<text x="293.7" y="346.2" text-anchor="middle">145°E</text>
</g>
<text x="147.4" y="235.6" font-family="Liberation Sans" font-size="8.1" fill="#000" stroke="#000" stroke-width="0.1">Japan</text>
<rect x="27.5" y="12.9" width="30.3" height="60.8" fill="#fff" stroke="#555" stroke-width="0.6"/>
<g fill="none" stroke="#444" stroke-width="0.45">
<circle cx="38.8" cy="27.6" r="8.1"/>
<circle cx="38.8" cy="41.6" r="3.9"/>
<circle cx="38.8" cy="55.5" r="1.9"/>
<circle cx="38.8" cy="69.6" r="0.85"/>
</g>
<g font-family="Liberation Sans" font-size="4.3" fill="#444">
<text x="49.1" y="29.2">8</text>
<text x="49.1" y="43.2">7</text>
<text x="49.1" y="57.1">6</text>
<text x="49.1" y="71.2">5</text>
<text x="47" y="20.9" font-size="4.4">M<tspan font-size="3.2" dy="0.9">w</tspan></text>
</g>
<rect x="259.3" y="6.6" width="62.6" height="16.8" fill="#fff" stroke="#222" stroke-width="0.8"/>
<path d="M263.7 10.8L265 13.1L262.4 13.1Z" fill="none" stroke="#555" stroke-width="0.4"/>
<circle cx="263.7" cy="18.3" r="1.2" fill="none" stroke="#555" stroke-width="0.4"/>
<g font-family="Liberation Sans" font-size="5.6" fill="#000" stroke="#000" stroke-width="0.1">
<text x="268.1" y="14">Used K-Net Stations</text>
<text x="268.1" y="20.2">76 Events</text>
</g>
<defs><linearGradient id="vir" x1="0" x2="1" y1="0" y2="0">
<stop offset="0.00" stop-color="#440154"/>
<stop offset="0.10" stop-color="#482475"/>
<stop offset="0.20" stop-color="#414487"/>
<stop offset="0.30" stop-color="#355f8d"/>
<stop offset="0.40" stop-color="#2a788e"/>
<stop offset="0.50" stop-color="#21918c"/>
<stop offset="0.60" stop-color="#22a884"/>
<stop offset="0.70" stop-color="#44bf70"/>
<stop offset="0.80" stop-color="#7ad151"/>
<stop offset="0.90" stop-color="#bddf26"/>
<stop offset="1.00" stop-color="#fde725"/>
</linearGradient></defs>
<rect x="247.2" y="302.9" width="62.5" height="7.6" fill="url(#vir)" stroke="#111" stroke-width="0.5"/>
<g stroke="#333" stroke-width="0.35">
<line x1="247.2" y1="310.5" x2="247.2" y2="312.3"/>
<line x1="249.76" y1="310.5" x2="249.76" y2="311.6"/>
<line x1="252.32" y1="310.5" x2="252.32" y2="311.6"/>
<line x1="254.88" y1="310.5" x2="254.88" y2="311.6"/>
<line x1="257.44" y1="310.5" x2="257.44" y2="311.6"/>
<line x1="260" y1="310.5" x2="260" y2="312.3"/>
<line x1="262.56" y1="310.5" x2="262.56" y2="311.6"/>
<line x1="265.12" y1="310.5" x2="265.12" y2="311.6"/>
<line x1="267.68" y1="310.5" x2="267.68" y2="311.6"/>
<line x1="270.24" y1="310.5" x2="270.24" y2="311.6"/>
<line x1="272.8" y1="310.5" x2="272.8" y2="312.3"/>
<line x1="275.36" y1="310.5" x2="275.36" y2="311.6"/>
<line x1="277.92" y1="310.5" x2="277.92" y2="311.6"/>
<line x1="280.48" y1="310.5" x2="280.48" y2="311.6"/>
<line x1="283.04" y1="310.5" x2="283.04" y2="311.6"/>
<line x1="285.6" y1="310.5" x2="285.6" y2="312.3"/>
<line x1="288.16" y1="310.5" x2="288.16" y2="311.6"/>
<line x1="290.72" y1="310.5" x2="290.72" y2="311.6"/>
<line x1="293.28" y1="310.5" x2="293.28" y2="311.6"/>
<line x1="295.84" y1="310.5" x2="295.84" y2="311.6"/>
<line x1="298.4" y1="310.5" x2="298.4" y2="312.3"/>
<line x1="300.96" y1="310.5" x2="300.96" y2="311.6"/>
<line x1="303.52" y1="310.5" x2="303.52" y2="311.6"/>
<line x1="306.08" y1="310.5" x2="306.08" y2="311.6"/>
<line x1="308.64" y1="310.5" x2="308.64" y2="311.6"/>
</g>
<g font-family="Liberation Sans" font-size="5" fill="#333" text-anchor="middle">
<text x="247.6" y="318.9">0</text>
<text x="260.4" y="318.9">10</text>
<text x="273.2" y="318.9">20</text>
<text x="286" y="318.9">30</text>
<text x="298.8" y="318.9">40</text>
</g>
<text x="260.1" y="327.7" font-family="Liberation Sans" font-size="7.5" fill="#000" stroke="#000" stroke-width="0.1">Depth (km)</text>
<text x="20.7" y="329.6" font-family="Liberation Serif" font-size="16.3" fill="#111">(a)</text></svg></body></html>
